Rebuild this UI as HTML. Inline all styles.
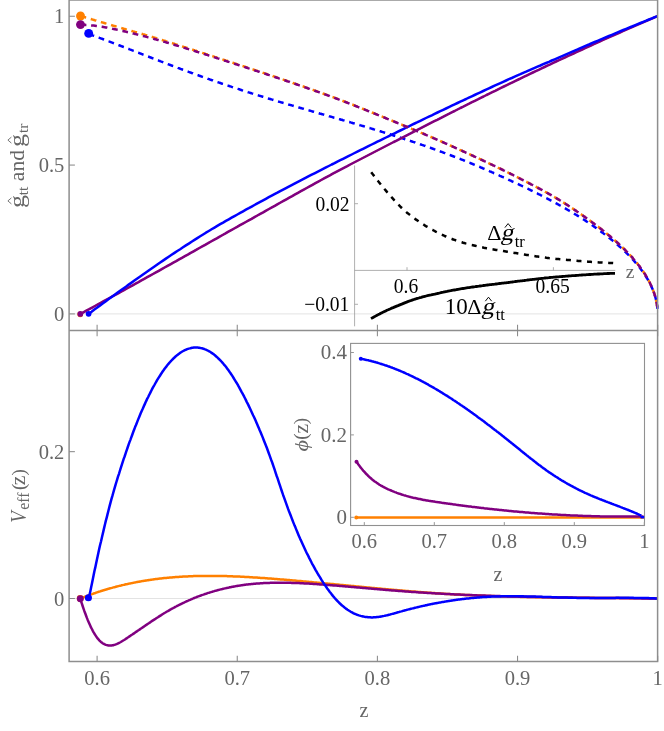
<!DOCTYPE html>
<html><head><meta charset="utf-8"><title>plot</title>
<style>
html,body{margin:0;padding:0;background:#fff;}
body{width:664px;height:731px;overflow:hidden;}
svg{display:block;font-family:"Liberation Serif",serif;will-change:transform;}
</style></head><body>
<svg width="664" height="731" viewBox="0 0 664 731">
<rect width="664" height="731" fill="#fff"/>
<line x1="69.1" x2="657.6" y1="313.9" y2="313.9" stroke="#e3e3e3" stroke-width="1"/>
<line x1="69.1" x2="657.6" y1="598.5" y2="598.5" stroke="#e3e3e3" stroke-width="1"/>
<path d="M88.7 34.0 L89.3 34.2 L90.0 34.5 L90.6 34.7 L91.2 34.9 L91.9 35.1 L92.5 35.4 L93.1 35.6 L93.8 35.8 L94.4 36.0 L95.0 36.3 L95.7 36.5 L96.3 36.7 L96.9 37.0 L97.6 37.2 L98.2 37.4 L98.8 37.6 L99.5 37.9 L100.1 38.1 L100.7 38.3 L101.4 38.6 L102.0 38.8 L102.6 39.0 L103.3 39.3 L103.9 39.5 L104.5 39.7 L105.1 40.0 L105.8 40.2 L106.4 40.5 L107.0 40.7 L107.7 40.9 L108.3 41.2 L108.9 41.4 L109.6 41.6 L110.2 41.9 L110.8 42.1 L111.5 42.4 L112.1 42.6 L112.7 42.8 L113.4 43.1 L114.0 43.3 L114.6 43.6 L115.3 43.8 L115.9 44.0 L116.5 44.3 L117.2 44.5 L117.8 44.8 L118.4 45.0 L119.1 45.3 L119.7 45.5 L120.3 45.7 L121.0 46.0 L121.6 46.2 L122.2 46.5 L122.9 46.7 L123.5 47.0 L124.1 47.2 L124.8 47.4 L125.4 47.7 L126.0 47.9 L126.7 48.2 L127.3 48.4 L127.9 48.7 L128.6 48.9 L129.2 49.2 L129.8 49.4 L130.5 49.6 L131.1 49.9 L131.7 50.1 L132.4 50.4 L133.0 50.6 L133.6 50.9 L134.3 51.1 L134.9 51.4 L135.5 51.6 L136.2 51.9 L136.8 52.1 L137.4 52.3 L138.0 52.6 L138.7 52.8 L139.3 53.1 L139.9 53.3 L140.6 53.6 L141.2 53.8 L141.8 54.1 L142.5 54.3 L143.1 54.6 L143.7 54.8 L144.4 55.1 L145.0 55.3 L145.6 55.5 L146.3 55.8 L146.9 56.0 L147.5 56.3 L148.2 56.5 L148.8 56.8 L149.4 57.0 L150.1 57.3 L150.7 57.5 L151.3 57.7 L152.0 58.0 L152.6 58.2 L153.2 58.5 L153.9 58.7 L154.5 59.0 L155.1 59.2 L155.8 59.5 L156.4 59.7 L157.0 59.9 L157.7 60.2 L158.3 60.4 L158.9 60.7 L159.6 60.9 L160.2 61.2 L160.8 61.4 L161.5 61.6 L162.1 61.9 L162.7 62.1 L163.4 62.4 L164.0 62.6 L164.6 62.9 L165.3 63.1 L165.9 63.3 L166.5 63.6 L167.2 63.8 L167.8 64.1 L168.4 64.3 L169.1 64.5 L169.7 64.8 L170.3 65.0 L170.9 65.3 L171.6 65.5 L172.2 65.7 L172.8 66.0 L173.5 66.2 L174.1 66.5 L174.7 66.7 L175.4 66.9 L176.0 67.2 L176.6 67.4 L177.3 67.6 L177.9 67.9 L178.5 68.1 L179.2 68.3 L179.8 68.6 L180.4 68.8 L181.1 69.1 L181.7 69.3 L182.3 69.5 L183.0 69.8 L183.6 70.0 L184.2 70.2 L184.9 70.5 L185.5 70.7 L186.1 70.9 L186.8 71.2 L187.4 71.4 L188.0 71.6 L188.7 71.9 L189.3 72.1 L189.9 72.3 L190.6 72.6 L191.2 72.8 L191.8 73.0 L192.5 73.2 L193.1 73.5 L193.7 73.7 L194.4 73.9 L195.0 74.2 L195.6 74.4 L196.3 74.6 L196.9 74.8 L197.5 75.1 L198.2 75.3 L198.8 75.5 L199.4 75.8 L200.1 76.0 L200.7 76.2 L201.3 76.4 L202.0 76.7 L202.6 76.9 L203.2 77.1 L203.8 77.3 L204.5 77.6 L205.1 77.8 L205.7 78.0 L206.4 78.2 L207.0 78.4 L207.6 78.7 L208.3 78.9 L208.9 79.1 L209.5 79.3 L210.2 79.6 L210.8 79.8 L211.4 80.0 L212.1 80.2 L212.7 80.4 L213.3 80.7 L214.0 80.9 L214.6 81.1 L215.2 81.3 L215.9 81.5 L216.5 81.7 L217.1 82.0 L217.8 82.2 L218.4 82.4 L219.0 82.6 L219.7 82.8 L220.3 83.0 L220.9 83.3 L221.6 83.5 L222.2 83.7 L222.8 83.9 L223.5 84.1 L224.1 84.3 L224.7 84.5 L225.4 84.7 L226.0 85.0 L226.6 85.2 L227.3 85.4 L227.9 85.6 L228.5 85.8 L229.2 86.0 L229.8 86.2 L230.4 86.4 L231.1 86.6 L231.7 86.9 L232.3 87.1 L233.0 87.3 L233.6 87.5 L234.2 87.7 L234.9 87.9 L235.5 88.1 L236.1 88.3 L236.7 88.5 L237.4 88.7 L238.0 88.9 L238.6 89.1 L239.3 89.3 L239.9 89.5 L240.5 89.8 L241.2 90.0 L241.8 90.2 L242.4 90.4 L243.1 90.6 L243.7 90.8 L244.3 91.0 L245.0 91.2 L245.6 91.4 L246.2 91.6 L246.9 91.8 L247.5 92.0 L248.1 92.2 L248.8 92.4 L249.4 92.6 L250.0 92.8 L250.7 93.0 L251.3 93.2 L251.9 93.4 L252.6 93.6 L253.2 93.8 L253.8 94.0 L254.5 94.2 L255.1 94.4 L255.7 94.6 L256.4 94.8 L257.0 95.0 L257.6 95.2 L258.3 95.4 L258.9 95.6 L259.5 95.8 L260.2 95.9 L260.8 96.1 L261.4 96.3 L262.1 96.5 L262.7 96.7 L263.3 96.9 L264.0 97.1 L264.6 97.3 L265.2 97.5 L265.9 97.7 L266.5 97.9 L267.1 98.1 L267.8 98.3 L268.4 98.5 L269.0 98.7 L269.6 98.9 L270.3 99.0 L270.9 99.2 L271.5 99.4 L272.2 99.6 L272.8 99.8 L273.4 100.0 L274.1 100.2 L274.7 100.4 L275.3 100.6 L276.0 100.8 L276.6 100.9 L277.2 101.1 L277.9 101.3 L278.5 101.5 L279.1 101.7 L279.8 101.9 L280.4 102.1 L281.0 102.3 L281.7 102.5 L282.3 102.6 L282.9 102.8 L283.6 103.0 L284.2 103.2 L284.8 103.4 L285.5 103.6 L286.1 103.8 L286.7 103.9 L287.4 104.1 L288.0 104.3 L288.6 104.5 L289.3 104.7 L289.9 104.9 L290.5 105.1 L291.2 105.2 L291.8 105.4 L292.4 105.6 L293.1 105.8 L293.7 106.0 L294.3 106.2 L295.0 106.4 L295.6 106.5 L296.2 106.7 L296.9 106.9 L297.5 107.1 L298.1 107.3 L298.8 107.5 L299.4 107.6 L300.0 107.8 L300.7 108.0 L301.3 108.2 L301.9 108.4 L302.5 108.6 L303.2 108.7 L303.8 108.9 L304.4 109.1 L305.1 109.3 L305.7 109.5 L306.3 109.7 L307.0 109.8 L307.6 110.0 L308.2 110.2 L308.9 110.4 L309.5 110.6 L310.1 110.7 L310.8 110.9 L311.4 111.1 L312.0 111.3 L312.7 111.5 L313.3 111.7 L313.9 111.8 L314.6 112.0 L315.2 112.2 L315.8 112.4 L316.5 112.6 L317.1 112.7 L317.7 112.9 L318.4 113.1 L319.0 113.3 L319.6 113.5 L320.3 113.7 L320.9 113.8 L321.5 114.0 L322.2 114.2 L322.8 114.4 L323.4 114.6 L324.1 114.7 L324.7 114.9 L325.3 115.1 L326.0 115.3 L326.6 115.5 L327.2 115.7 L327.9 115.8 L328.5 116.0 L329.1 116.2 L329.8 116.4 L330.4 116.6 L331.0 116.7 L331.7 116.9 L332.3 117.1 L332.9 117.3 L333.6 117.5 L334.2 117.7 L334.8 117.8 L335.4 118.0 L336.1 118.2 L336.7 118.4 L337.3 118.6 L338.0 118.7 L338.6 118.9 L339.2 119.1 L339.9 119.3 L340.5 119.5 L341.1 119.7 L341.8 119.8 L342.4 120.0 L343.0 120.2 L343.7 120.4 L344.3 120.6 L344.9 120.8 L345.6 120.9 L346.2 121.1 L346.8 121.3 L347.5 121.5 L348.1 121.7 L348.7 121.9 L349.4 122.0 L350.0 122.2 L350.6 122.4 L351.3 122.6 L351.9 122.8 L352.5 123.0 L353.2 123.2 L353.8 123.3 L354.4 123.5 L355.1 123.7 L355.7 123.9 L356.3 124.1 L357.0 124.3 L357.6 124.5 L358.2 124.6 L358.9 124.8 L359.5 125.0 L360.1 125.2 L360.8 125.4 L361.4 125.6 L362.0 125.8 L362.7 126.0 L363.3 126.1 L363.9 126.3 L364.6 126.5 L365.2 126.7 L365.8 126.9 L366.5 127.1 L367.1 127.3 L367.7 127.5 L368.3 127.7 L369.0 127.9 L369.6 128.0 L370.2 128.2 L370.9 128.4 L371.5 128.6 L372.1 128.8 L372.8 129.0 L373.4 129.2 L374.0 129.4 L374.7 129.6 L375.3 129.8 L375.9 130.0 L376.6 130.2 L377.2 130.3 L377.8 130.5 L378.5 130.7 L379.1 130.9 L379.7 131.1 L380.4 131.3 L381.0 131.5 L381.6 131.7 L382.3 131.9 L382.9 132.1 L383.5 132.3 L384.2 132.5 L384.8 132.7 L385.4 132.9 L386.1 133.1 L386.7 133.3 L387.3 133.5 L388.0 133.7 L388.6 133.9 L389.2 134.1 L389.9 134.3 L390.5 134.5 L391.1 134.7 L391.8 134.9 L392.4 135.1 L393.0 135.3 L393.7 135.5 L394.3 135.7 L394.9 135.9 L395.6 136.1 L396.2 136.3 L396.8 136.5 L397.5 136.7 L398.1 136.9 L398.7 137.1 L399.4 137.3 L400.0 137.5 L400.6 137.7 L401.2 137.9 L401.9 138.1 L402.5 138.3 L403.1 138.5 L403.8 138.7 L404.4 139.0 L405.0 139.2 L405.7 139.4 L406.3 139.6 L406.9 139.8 L407.6 140.0 L408.2 140.2 L408.8 140.4 L409.5 140.6 L410.1 140.8 L410.7 141.1 L411.4 141.3 L412.0 141.5 L412.6 141.7 L413.3 141.9 L413.9 142.1 L414.5 142.3 L415.2 142.5 L415.8 142.8 L416.4 143.0 L417.1 143.2 L417.7 143.4 L418.3 143.6 L419.0 143.8 L419.6 144.1 L420.2 144.3 L420.9 144.5 L421.5 144.7 L422.1 144.9 L422.8 145.1 L423.4 145.4 L424.0 145.6 L424.7 145.8 L425.3 146.0 L425.9 146.3 L426.6 146.5 L427.2 146.7 L427.8 146.9 L428.5 147.1 L429.1 147.4 L429.7 147.6 L430.4 147.8 L431.0 148.0 L431.6 148.3 L432.3 148.5 L432.9 148.7 L433.5 148.9 L434.1 149.2 L434.8 149.4 L435.4 149.6 L436.0 149.9 L436.7 150.1 L437.3 150.3 L437.9 150.6 L438.6 150.8 L439.2 151.0 L439.8 151.2 L440.5 151.5 L441.1 151.7 L441.7 151.9 L442.4 152.2 L443.0 152.4 L443.6 152.7 L444.3 152.9 L444.9 153.1 L445.5 153.4 L446.2 153.6 L446.8 153.8 L447.4 154.1 L448.1 154.3 L448.7 154.6 L449.3 154.8 L450.0 155.0 L450.6 155.3 L451.2 155.5 L451.9 155.8 L452.5 156.0 L453.1 156.2 L453.8 156.5 L454.4 156.7 L455.0 157.0 L455.7 157.2 L456.3 157.5 L456.9 157.7 L457.6 158.0 L458.2 158.2 L458.8 158.4 L459.5 158.7 L460.1 158.9 L460.7 159.2 L461.4 159.4 L462.0 159.7 L462.6 159.9 L463.3 160.2 L463.9 160.5 L464.5 160.7 L465.2 161.0 L465.8 161.2 L466.4 161.5 L467.0 161.7 L467.7 162.0 L468.3 162.2 L468.9 162.5 L469.6 162.7 L470.2 163.0 L470.8 163.3 L471.5 163.5 L472.1 163.8 L472.7 164.0 L473.4 164.3 L474.0 164.6 L474.6 164.8 L475.3 165.1 L475.9 165.4 L476.5 165.6 L477.2 165.9 L477.8 166.1 L478.4 166.4 L479.1 166.7 L479.7 166.9 L480.3 167.2 L481.0 167.5 L481.6 167.7 L482.2 168.0 L482.9 168.3 L483.5 168.6 L484.1 168.8 L484.8 169.1 L485.4 169.4 L486.0 169.6 L486.7 169.9 L487.3 170.2 L487.9 170.5 L488.6 170.7 L489.2 171.0 L489.8 171.3 L490.5 171.6 L491.1 171.8 L491.7 172.1 L492.4 172.4 L493.0 172.7 L493.6 173.0 L494.3 173.2 L494.9 173.5 L495.5 173.8 L496.2 174.1 L496.8 174.4 L497.4 174.7 L498.1 174.9 L498.7 175.2 L499.3 175.5 L499.9 175.8 L500.6 176.1 L501.2 176.4 L501.8 176.7 L502.5 176.9 L503.1 177.2 L503.7 177.5 L504.4 177.8 L505.0 178.1 L505.6 178.4 L506.3 178.7 L506.9 179.0 L507.5 179.2 L508.2 179.5 L508.8 179.8 L509.4 180.1 L510.1 180.4 L510.7 180.7 L511.3 181.0 L512.0 181.3 L512.6 181.6 L513.2 181.9 L513.9 182.2 L514.5 182.4 L515.1 182.7 L515.8 183.0 L516.4 183.3 L517.0 183.6 L517.7 183.9 L518.3 184.2 L518.9 184.5 L519.6 184.8 L520.2 185.1 L520.8 185.4 L521.5 185.7 L522.1 186.0 L522.7 186.3 L523.4 186.6 L524.0 186.9 L524.6 187.2 L525.3 187.5 L525.9 187.8 L526.5 188.1 L527.2 188.4 L527.8 188.7 L528.4 189.0 L529.1 189.4 L529.7 189.7 L530.3 190.0 L531.0 190.3 L531.6 190.6 L532.2 190.9 L532.8 191.2 L533.5 191.5 L534.1 191.8 L534.7 192.2 L535.4 192.5 L536.0 192.8 L536.6 193.1 L537.3 193.4 L537.9 193.8 L538.5 194.1 L539.2 194.4 L539.8 194.7 L540.4 195.0 L541.1 195.4 L541.7 195.7 L542.3 196.0 L543.0 196.3 L543.6 196.7 L544.2 197.0 L544.9 197.3 L545.5 197.7 L546.1 198.0 L546.8 198.3 L547.4 198.7 L548.0 199.0 L548.7 199.3 L549.3 199.7 L549.9 200.0 L550.6 200.3 L551.2 200.7 L551.8 201.0 L552.5 201.3 L553.1 201.7 L553.7 202.0 L554.4 202.4 L555.0 202.7 L555.6 203.1 L556.3 203.4 L556.9 203.7 L557.5 204.1 L558.2 204.4 L558.8 204.8 L559.4 205.1 L560.1 205.5 L560.7 205.8 L561.3 206.2 L562.0 206.5 L562.6 206.9 L563.2 207.3 L563.9 207.6 L564.5 208.0 L565.1 208.3 L565.7 208.7 L566.4 209.1 L567.0 209.4 L567.6 209.8 L568.3 210.2 L568.9 210.5 L569.5 210.9 L570.2 211.3 L570.8 211.6 L571.4 212.0 L572.1 212.4 L572.7 212.8 L573.3 213.1 L574.0 213.5 L574.6 213.9 L575.2 214.3 L575.9 214.7 L576.5 215.0 L577.1 215.4 L577.8 215.8 L578.4 216.2 L579.0 216.6 L579.7 217.0 L580.3 217.4 L580.9 217.8 L581.6 218.2 L582.2 218.6 L582.8 219.0 L583.5 219.4 L584.1 219.8 L584.7 220.2 L585.4 220.6 L586.0 221.1 L586.6 221.5 L587.3 221.9 L587.9 222.3 L588.5 222.7 L589.2 223.2 L589.8 223.6 L590.4 224.0 L591.1 224.5 L591.7 224.9 L592.3 225.3 L593.0 225.8 L593.6 226.2 L594.2 226.7 L594.9 227.1 L595.5 227.6 L596.1 228.0 L596.8 228.5 L597.4 228.9 L598.0 229.4 L598.6 229.8 L599.3 230.3 L599.9 230.8 L600.5 231.2 L601.2 231.7 L601.8 232.2 L602.4 232.6 L603.1 233.1 L603.7 233.6 L604.3 234.1 L605.0 234.6 L605.6 235.1 L606.2 235.5 L606.9 236.0 L607.5 236.5 L608.1 237.0 L608.8 237.5 L609.4 238.0 L610.0 238.5 L610.7 239.0 L611.3 239.5 L611.9 240.1 L612.6 240.6 L613.2 241.1 L613.8 241.6 L614.5 242.2 L615.1 242.7 L615.7 243.2 L616.4 243.8 L617.0 244.3 L617.6 244.8 L618.3 245.4 L618.9 246.0 L619.5 246.5 L620.2 247.1 L620.8 247.6 L621.4 248.2 L622.1 248.8 L622.7 249.4 L623.3 250.0 L624.0 250.6 L624.6 251.2 L625.2 251.8 L625.9 252.4 L626.5 253.0 L627.1 253.6 L627.8 254.2 L628.4 254.9 L629.0 255.5 L629.7 256.2 L630.3 256.8 L630.9 257.5 L631.5 258.2 L632.2 258.8 L632.8 259.5 L633.4 260.2 L634.1 260.9 L634.7 261.6 L635.3 262.4 L636.0 263.1 L636.6 263.8 L637.2 264.6 L637.9 265.4 L638.5 266.1 L639.1 266.9 L639.8 267.7 L640.4 268.6 L641.0 269.4 L641.7 270.3 L642.3 271.1 L642.9 272.0 L643.6 272.9 L644.2 273.8 L644.8 274.8 L645.5 275.8 L646.1 276.8 L646.7 277.8 L647.4 278.8 L648.0 279.9 L648.6 281.0 L649.3 282.2 L649.9 283.4 L650.5 284.7 L651.2 286.0 L651.8 287.4 L652.4 288.8 L653.1 290.4 L653.7 292.0 L654.3 293.8 L655.0 295.8 L655.6 298.0 L656.2 300.6 L656.9 303.8 L657.5 308.9" fill="none" stroke="#0000ff" stroke-width="2.50" stroke-dasharray="5.8 4.8" stroke-linejoin="round"/>
<path d="M80.5 313.9 L83.4 312.3 L86.3 310.7 L89.2 309.2 L92.1 307.6 L95.0 306.0 L97.9 304.4 L100.8 302.8 L103.7 301.2 L106.6 299.6 L109.5 298.0 L112.4 296.4 L115.3 294.9 L118.2 293.3 L121.1 291.7 L124.0 290.1 L126.9 288.5 L129.8 286.9 L132.7 285.3 L135.6 283.7 L138.5 282.1 L141.4 280.4 L144.3 278.8 L147.2 277.2 L150.1 275.6 L153.0 274.0 L155.9 272.4 L158.8 270.8 L161.7 269.2 L164.6 267.5 L167.5 265.9 L170.4 264.3 L173.3 262.7 L176.2 261.1 L179.1 259.4 L182.0 257.8 L184.9 256.2 L187.8 254.6 L190.7 252.9 L193.6 251.3 L196.5 249.7 L199.4 248.0 L202.3 246.4 L205.2 244.8 L208.1 243.2 L211.0 241.5 L213.9 239.9 L216.8 238.3 L219.7 236.6 L222.6 235.0 L225.5 233.4 L228.4 231.7 L231.3 230.1 L234.2 228.5 L237.1 226.9 L240.0 225.2 L242.9 223.6 L245.8 222.0 L248.7 220.4 L251.6 218.8 L254.5 217.1 L257.4 215.5 L260.3 213.9 L263.2 212.3 L266.1 210.6 L269.0 209.0 L271.9 207.4 L274.8 205.8 L277.7 204.1 L280.6 202.5 L283.5 200.9 L286.4 199.3 L289.3 197.7 L292.2 196.1 L295.1 194.4 L298.0 192.8 L300.9 191.2 L303.8 189.6 L306.7 188.0 L309.6 186.4 L312.5 184.8 L315.4 183.2 L318.3 181.6 L321.2 180.0 L324.1 178.4 L327.0 176.8 L329.9 175.3 L332.8 173.7 L335.7 172.2 L338.6 170.6 L341.5 169.1 L344.4 167.6 L347.3 166.1 L350.2 164.5 L353.1 163.0 L356.0 161.5 L358.9 160.0 L361.8 158.5 L364.7 157.0 L367.6 155.5 L370.5 154.0 L373.4 152.5 L376.3 151.0 L379.2 149.5 L382.1 148.0 L385.0 146.5 L387.9 145.0 L390.8 143.5 L393.7 142.0 L396.6 140.6 L399.5 139.1 L402.4 137.6 L405.3 136.1 L408.2 134.6 L411.1 133.1 L414.0 131.6 L416.9 130.1 L419.8 128.7 L422.7 127.2 L425.6 125.7 L428.5 124.2 L431.4 122.7 L434.3 121.2 L437.2 119.8 L440.1 118.3 L443.0 116.8 L445.9 115.3 L448.8 113.9 L451.7 112.4 L454.6 111.0 L457.5 109.5 L460.4 108.0 L463.3 106.6 L466.2 105.1 L469.1 103.7 L472.0 102.2 L474.9 100.8 L477.8 99.4 L480.7 97.9 L483.6 96.5 L486.5 95.0 L489.4 93.6 L492.3 92.2 L495.2 90.8 L498.1 89.3 L501.0 87.9 L503.9 86.5 L506.8 85.1 L509.7 83.7 L512.6 82.3 L515.5 80.9 L518.4 79.5 L521.3 78.1 L524.2 76.7 L527.1 75.3 L530.0 73.9 L532.9 72.5 L535.8 71.1 L538.7 69.8 L541.6 68.4 L544.5 67.0 L547.4 65.6 L550.3 64.3 L553.2 62.9 L556.1 61.5 L559.0 60.2 L561.9 58.8 L564.8 57.5 L567.7 56.1 L570.6 54.8 L573.5 53.5 L576.4 52.1 L579.3 50.8 L582.2 49.5 L585.1 48.1 L588.0 46.8 L590.9 45.5 L593.8 44.2 L596.7 42.8 L599.6 41.5 L602.5 40.2 L605.4 38.9 L608.3 37.6 L611.2 36.3 L614.1 35.0 L617.0 33.8 L619.9 32.5 L622.8 31.2 L625.7 29.9 L628.6 28.6 L631.5 27.4 L634.4 26.1 L637.3 24.8 L640.2 23.6 L643.1 22.3 L646.0 21.1 L648.9 19.8 L651.8 18.6 L654.7 17.3 L657.6 16.1" fill="none" stroke="#ff8000" stroke-width="1.60" stroke-linejoin="round"/>
<path d="M80.5 313.9 L83.4 312.3 L86.3 310.7 L89.2 309.2 L92.1 307.6 L95.0 306.0 L97.9 304.4 L100.8 302.8 L103.7 301.2 L106.6 299.6 L109.5 298.0 L112.4 296.4 L115.3 294.9 L118.2 293.3 L121.1 291.7 L124.0 290.1 L126.9 288.5 L129.8 286.9 L132.7 285.3 L135.6 283.7 L138.5 282.1 L141.4 280.4 L144.3 278.8 L147.2 277.2 L150.1 275.6 L153.0 274.0 L155.9 272.4 L158.8 270.8 L161.7 269.2 L164.6 267.5 L167.5 265.9 L170.4 264.3 L173.3 262.7 L176.2 261.1 L179.1 259.4 L182.0 257.8 L184.9 256.2 L187.8 254.6 L190.7 252.9 L193.6 251.3 L196.5 249.7 L199.4 248.0 L202.3 246.4 L205.2 244.8 L208.1 243.2 L211.0 241.5 L213.9 239.9 L216.8 238.3 L219.7 236.6 L222.6 235.0 L225.5 233.4 L228.4 231.7 L231.3 230.1 L234.2 228.5 L237.1 226.9 L240.0 225.2 L242.9 223.6 L245.8 222.0 L248.7 220.4 L251.6 218.8 L254.5 217.1 L257.4 215.5 L260.3 213.9 L263.2 212.3 L266.1 210.6 L269.0 209.0 L271.9 207.4 L274.8 205.8 L277.7 204.1 L280.6 202.5 L283.5 200.9 L286.4 199.3 L289.3 197.7 L292.2 196.1 L295.1 194.4 L298.0 192.8 L300.9 191.2 L303.8 189.6 L306.7 188.0 L309.6 186.4 L312.5 184.8 L315.4 183.2 L318.3 181.6 L321.2 180.0 L324.1 178.4 L327.0 176.8 L329.9 175.3 L332.8 173.7 L335.7 172.2 L338.6 170.6 L341.5 169.1 L344.4 167.6 L347.3 166.1 L350.2 164.5 L353.1 163.0 L356.0 161.5 L358.9 160.0 L361.8 158.5 L364.7 157.0 L367.6 155.5 L370.5 154.0 L373.4 152.5 L376.3 151.0 L379.2 149.5 L382.1 148.0 L385.0 146.5 L387.9 145.0 L390.8 143.5 L393.7 142.0 L396.6 140.6 L399.5 139.1 L402.4 137.6 L405.3 136.1 L408.2 134.6 L411.1 133.1 L414.0 131.6 L416.9 130.1 L419.8 128.7 L422.7 127.2 L425.6 125.7 L428.5 124.2 L431.4 122.7 L434.3 121.2 L437.2 119.8 L440.1 118.3 L443.0 116.8 L445.9 115.3 L448.8 113.9 L451.7 112.4 L454.6 111.0 L457.5 109.5 L460.4 108.0 L463.3 106.6 L466.2 105.1 L469.1 103.7 L472.0 102.2 L474.9 100.8 L477.8 99.4 L480.7 97.9 L483.6 96.5 L486.5 95.0 L489.4 93.6 L492.3 92.2 L495.2 90.8 L498.1 89.3 L501.0 87.9 L503.9 86.5 L506.8 85.1 L509.7 83.7 L512.6 82.3 L515.5 80.9 L518.4 79.5 L521.3 78.1 L524.2 76.7 L527.1 75.3 L530.0 73.9 L532.9 72.5 L535.8 71.1 L538.7 69.8 L541.6 68.4 L544.5 67.0 L547.4 65.6 L550.3 64.3 L553.2 62.9 L556.1 61.5 L559.0 60.2 L561.9 58.8 L564.8 57.5 L567.7 56.1 L570.6 54.8 L573.5 53.5 L576.4 52.1 L579.3 50.8 L582.2 49.5 L585.1 48.1 L588.0 46.8 L590.9 45.5 L593.8 44.2 L596.7 42.8 L599.6 41.5 L602.5 40.2 L605.4 38.9 L608.3 37.6 L611.2 36.3 L614.1 35.0 L617.0 33.8 L619.9 32.5 L622.8 31.2 L625.7 29.9 L628.6 28.6 L631.5 27.4 L634.4 26.1 L637.3 24.8 L640.2 23.6 L643.1 22.3 L646.0 21.1 L648.9 19.8 L651.8 18.6 L654.7 17.3 L657.6 16.1" fill="none" stroke="#800080" stroke-width="2.50" stroke-linejoin="round"/>
<path d="M88.7 313.9 L91.6 311.8 L94.4 309.6 L97.3 307.5 L100.1 305.4 L103.0 303.3 L105.9 301.2 L108.7 299.1 L111.6 297.0 L114.4 294.9 L117.3 292.8 L120.1 290.8 L123.0 288.7 L125.9 286.7 L128.7 284.6 L131.6 282.6 L134.4 280.6 L137.3 278.5 L140.2 276.5 L143.0 274.5 L145.9 272.5 L148.7 270.5 L151.6 268.5 L154.5 266.5 L157.3 264.5 L160.2 262.5 L163.0 260.6 L165.9 258.6 L168.7 256.7 L171.6 254.8 L174.5 252.9 L177.3 251.0 L180.2 249.2 L183.0 247.3 L185.9 245.4 L188.8 243.6 L191.6 241.7 L194.5 239.9 L197.3 238.1 L200.2 236.3 L203.1 234.5 L205.9 232.7 L208.8 231.0 L211.6 229.3 L214.5 227.6 L217.3 225.9 L220.2 224.2 L223.1 222.6 L225.9 220.9 L228.8 219.3 L231.6 217.7 L234.5 216.1 L237.4 214.5 L240.2 212.9 L243.1 211.3 L245.9 209.7 L248.8 208.2 L251.7 206.6 L254.5 205.0 L257.4 203.4 L260.2 201.9 L263.1 200.3 L265.9 198.8 L268.8 197.2 L271.7 195.7 L274.5 194.2 L277.4 192.7 L280.2 191.1 L283.1 189.6 L286.0 188.1 L288.8 186.6 L291.7 185.1 L294.5 183.6 L297.4 182.1 L300.3 180.6 L303.1 179.2 L306.0 177.7 L308.8 176.2 L311.7 174.7 L314.5 173.3 L317.4 171.8 L320.3 170.3 L323.1 168.9 L326.0 167.4 L328.8 166.0 L331.7 164.5 L334.6 163.1 L337.4 161.6 L340.3 160.2 L343.1 158.8 L346.0 157.3 L348.9 155.9 L351.7 154.5 L354.6 153.0 L357.4 151.6 L360.3 150.2 L363.1 148.8 L366.0 147.3 L368.9 145.9 L371.7 144.5 L374.6 143.1 L377.4 141.7 L380.3 140.3 L383.2 138.9 L386.0 137.5 L388.9 136.1 L391.7 134.7 L394.6 133.3 L397.4 131.9 L400.3 130.5 L403.2 129.1 L406.0 127.7 L408.9 126.3 L411.7 124.9 L414.6 123.5 L417.5 122.2 L420.3 120.8 L423.2 119.4 L426.0 118.0 L428.9 116.6 L431.8 115.3 L434.6 113.9 L437.5 112.5 L440.3 111.2 L443.2 109.8 L446.0 108.5 L448.9 107.1 L451.8 105.7 L454.6 104.4 L457.5 103.0 L460.3 101.7 L463.2 100.3 L466.1 99.0 L468.9 97.6 L471.8 96.3 L474.6 95.0 L477.5 93.6 L480.4 92.3 L483.2 91.0 L486.1 89.6 L488.9 88.3 L491.8 87.0 L494.6 85.7 L497.5 84.4 L500.4 83.1 L503.2 81.8 L506.1 80.5 L508.9 79.2 L511.8 78.0 L514.7 76.7 L517.5 75.4 L520.4 74.2 L523.2 72.9 L526.1 71.7 L529.0 70.4 L531.8 69.2 L534.7 67.9 L537.5 66.7 L540.4 65.5 L543.2 64.2 L546.1 63.0 L549.0 61.8 L551.8 60.5 L554.7 59.3 L557.5 58.1 L560.4 56.8 L563.3 55.6 L566.1 54.4 L569.0 53.1 L571.8 51.9 L574.7 50.6 L577.6 49.4 L580.4 48.1 L583.3 46.9 L586.1 45.7 L589.0 44.5 L591.8 43.2 L594.7 42.0 L597.6 40.8 L600.4 39.6 L603.3 38.4 L606.1 37.2 L609.0 36.0 L611.9 34.8 L614.7 33.6 L617.6 32.4 L620.4 31.2 L623.3 30.0 L626.2 28.8 L629.0 27.6 L631.9 26.5 L634.7 25.3 L637.6 24.1 L640.4 23.0 L643.3 21.8 L646.2 20.7 L649.0 19.5 L651.9 18.4 L654.7 17.2 L657.6 16.1" fill="none" stroke="#0000ff" stroke-width="2.50" stroke-linejoin="round"/>
<path d="M80.6 16.0 L81.2 16.2 L81.9 16.3 L82.5 16.5 L83.2 16.7 L83.8 16.9 L84.5 17.1 L85.1 17.3 L85.7 17.5 L86.4 17.7 L87.0 17.9 L87.7 18.1 L88.3 18.3 L88.9 18.5 L89.6 18.6 L90.2 18.8 L90.9 19.0 L91.5 19.2 L92.2 19.4 L92.8 19.6 L93.4 19.8 L94.1 20.0 L94.7 20.2 L95.4 20.4 L96.0 20.5 L96.6 20.7 L97.3 20.9 L97.9 21.1 L98.6 21.3 L99.2 21.5 L99.9 21.7 L100.5 21.9 L101.1 22.1 L101.8 22.3 L102.4 22.4 L103.1 22.6 L103.7 22.8 L104.3 23.0 L105.0 23.2 L105.6 23.4 L106.3 23.6 L106.9 23.8 L107.6 24.0 L108.2 24.2 L108.8 24.3 L109.5 24.5 L110.1 24.7 L110.8 24.9 L111.4 25.1 L112.0 25.3 L112.7 25.5 L113.3 25.7 L114.0 25.9 L114.6 26.0 L115.3 26.2 L115.9 26.4 L116.5 26.6 L117.2 26.8 L117.8 27.0 L118.5 27.2 L119.1 27.4 L119.7 27.5 L120.4 27.7 L121.0 27.9 L121.7 28.1 L122.3 28.3 L123.0 28.5 L123.6 28.7 L124.2 28.9 L124.9 29.0 L125.5 29.2 L126.2 29.4 L126.8 29.6 L127.4 29.8 L128.1 30.0 L128.7 30.1 L129.4 30.3 L130.0 30.5 L130.7 30.7 L131.3 30.9 L131.9 31.1 L132.6 31.2 L133.2 31.4 L133.9 31.6 L134.5 31.8 L135.1 32.0 L135.8 32.2 L136.4 32.3 L137.1 32.5 L137.7 32.7 L138.4 32.9 L139.0 33.1 L139.6 33.3 L140.3 33.4 L140.9 33.6 L141.6 33.8 L142.2 34.0 L142.8 34.2 L143.5 34.4 L144.1 34.5 L144.8 34.7 L145.4 34.9 L146.1 35.1 L146.7 35.3 L147.3 35.5 L148.0 35.7 L148.6 35.9 L149.3 36.0 L149.9 36.2 L150.5 36.4 L151.2 36.6 L151.8 36.8 L152.5 37.0 L153.1 37.2 L153.8 37.4 L154.4 37.6 L155.0 37.8 L155.7 38.0 L156.3 38.2 L157.0 38.4 L157.6 38.6 L158.2 38.8 L158.9 39.0 L159.5 39.2 L160.2 39.4 L160.8 39.6 L161.5 39.8 L162.1 40.0 L162.7 40.2 L163.4 40.4 L164.0 40.6 L164.7 40.8 L165.3 41.0 L165.9 41.2 L166.6 41.4 L167.2 41.6 L167.9 41.8 L168.5 42.0 L169.2 42.2 L169.8 42.4 L170.4 42.6 L171.1 42.8 L171.7 43.0 L172.4 43.2 L173.0 43.4 L173.6 43.6 L174.3 43.8 L174.9 44.0 L175.6 44.2 L176.2 44.4 L176.9 44.6 L177.5 44.8 L178.1 45.1 L178.8 45.3 L179.4 45.5 L180.1 45.7 L180.7 45.9 L181.3 46.1 L182.0 46.3 L182.6 46.5 L183.3 46.7 L183.9 46.9 L184.6 47.1 L185.2 47.3 L185.8 47.5 L186.5 47.7 L187.1 47.9 L187.8 48.1 L188.4 48.3 L189.0 48.5 L189.7 48.7 L190.3 49.0 L191.0 49.2 L191.6 49.4 L192.3 49.6 L192.9 49.8 L193.5 50.0 L194.2 50.2 L194.8 50.4 L195.5 50.6 L196.1 50.8 L196.7 51.0 L197.4 51.2 L198.0 51.4 L198.7 51.6 L199.3 51.9 L200.0 52.1 L200.6 52.3 L201.2 52.5 L201.9 52.7 L202.5 52.9 L203.2 53.1 L203.8 53.3 L204.4 53.5 L205.1 53.7 L205.7 53.9 L206.4 54.1 L207.0 54.3 L207.7 54.6 L208.3 54.8 L208.9 55.0 L209.6 55.2 L210.2 55.4 L210.9 55.6 L211.5 55.8 L212.1 56.0 L212.8 56.2 L213.4 56.4 L214.1 56.6 L214.7 56.9 L215.4 57.1 L216.0 57.3 L216.6 57.5 L217.3 57.7 L217.9 57.9 L218.6 58.1 L219.2 58.3 L219.8 58.5 L220.5 58.7 L221.1 58.9 L221.8 59.2 L222.4 59.4 L223.1 59.6 L223.7 59.8 L224.3 60.0 L225.0 60.2 L225.6 60.4 L226.3 60.6 L226.9 60.8 L227.5 61.0 L228.2 61.3 L228.8 61.5 L229.5 61.7 L230.1 61.9 L230.8 62.1 L231.4 62.3 L232.0 62.5 L232.7 62.7 L233.3 62.9 L234.0 63.2 L234.6 63.4 L235.3 63.6 L235.9 63.8 L236.5 64.0 L237.2 64.2 L237.8 64.4 L238.5 64.6 L239.1 64.8 L239.7 65.1 L240.4 65.3 L241.0 65.5 L241.7 65.7 L242.3 65.9 L243.0 66.1 L243.6 66.3 L244.2 66.5 L244.9 66.7 L245.5 67.0 L246.2 67.2 L246.8 67.4 L247.4 67.6 L248.1 67.8 L248.7 68.0 L249.4 68.2 L250.0 68.4 L250.7 68.7 L251.3 68.9 L251.9 69.1 L252.6 69.3 L253.2 69.5 L253.9 69.7 L254.5 69.9 L255.1 70.1 L255.8 70.4 L256.4 70.6 L257.1 70.8 L257.7 71.0 L258.4 71.2 L259.0 71.4 L259.6 71.6 L260.3 71.9 L260.9 72.1 L261.6 72.3 L262.2 72.5 L262.8 72.7 L263.5 72.9 L264.1 73.1 L264.8 73.4 L265.4 73.6 L266.1 73.8 L266.7 74.0 L267.3 74.2 L268.0 74.4 L268.6 74.6 L269.3 74.9 L269.9 75.1 L270.5 75.3 L271.2 75.5 L271.8 75.7 L272.5 75.9 L273.1 76.2 L273.8 76.4 L274.4 76.6 L275.0 76.8 L275.7 77.0 L276.3 77.2 L277.0 77.5 L277.6 77.7 L278.2 77.9 L278.9 78.1 L279.5 78.3 L280.2 78.6 L280.8 78.8 L281.5 79.0 L282.1 79.2 L282.7 79.4 L283.4 79.6 L284.0 79.9 L284.7 80.1 L285.3 80.3 L285.9 80.5 L286.6 80.7 L287.2 81.0 L287.9 81.2 L288.5 81.4 L289.2 81.6 L289.8 81.8 L290.4 82.1 L291.1 82.3 L291.7 82.5 L292.4 82.7 L293.0 83.0 L293.6 83.2 L294.3 83.4 L294.9 83.6 L295.6 83.8 L296.2 84.1 L296.9 84.3 L297.5 84.5 L298.1 84.7 L298.8 85.0 L299.4 85.2 L300.1 85.4 L300.7 85.6 L301.3 85.8 L302.0 86.1 L302.6 86.3 L303.3 86.5 L303.9 86.7 L304.6 87.0 L305.2 87.2 L305.8 87.4 L306.5 87.6 L307.1 87.9 L307.8 88.1 L308.4 88.3 L309.0 88.5 L309.7 88.8 L310.3 89.0 L311.0 89.2 L311.6 89.5 L312.3 89.7 L312.9 89.9 L313.5 90.1 L314.2 90.4 L314.8 90.6 L315.5 90.8 L316.1 91.0 L316.7 91.3 L317.4 91.5 L318.0 91.7 L318.7 92.0 L319.3 92.2 L320.0 92.4 L320.6 92.7 L321.2 92.9 L321.9 93.1 L322.5 93.3 L323.2 93.6 L323.8 93.8 L324.4 94.0 L325.1 94.3 L325.7 94.5 L326.4 94.7 L327.0 95.0 L327.7 95.2 L328.3 95.4 L328.9 95.7 L329.6 95.9 L330.2 96.2 L330.9 96.4 L331.5 96.6 L332.1 96.9 L332.8 97.1 L333.4 97.3 L334.1 97.6 L334.7 97.8 L335.4 98.1 L336.0 98.3 L336.6 98.5 L337.3 98.8 L337.9 99.0 L338.6 99.3 L339.2 99.5 L339.8 99.8 L340.5 100.0 L341.1 100.3 L341.8 100.5 L342.4 100.7 L343.1 101.0 L343.7 101.2 L344.3 101.5 L345.0 101.7 L345.6 102.0 L346.3 102.2 L346.9 102.5 L347.5 102.7 L348.2 103.0 L348.8 103.2 L349.5 103.5 L350.1 103.7 L350.8 104.0 L351.4 104.2 L352.0 104.5 L352.7 104.7 L353.3 105.0 L354.0 105.2 L354.6 105.5 L355.2 105.8 L355.9 106.0 L356.5 106.3 L357.2 106.5 L357.8 106.8 L358.5 107.0 L359.1 107.3 L359.7 107.5 L360.4 107.8 L361.0 108.1 L361.7 108.3 L362.3 108.6 L362.9 108.8 L363.6 109.1 L364.2 109.3 L364.9 109.6 L365.5 109.9 L366.2 110.1 L366.8 110.4 L367.4 110.6 L368.1 110.9 L368.7 111.2 L369.4 111.4 L370.0 111.7 L370.6 111.9 L371.3 112.2 L371.9 112.5 L372.6 112.7 L373.2 113.0 L373.9 113.2 L374.5 113.5 L375.1 113.8 L375.8 114.0 L376.4 114.3 L377.1 114.5 L377.7 114.8 L378.3 115.1 L379.0 115.3 L379.6 115.6 L380.3 115.8 L380.9 116.1 L381.6 116.4 L382.2 116.6 L382.8 116.9 L383.5 117.2 L384.1 117.4 L384.8 117.7 L385.4 118.0 L386.0 118.2 L386.7 118.5 L387.3 118.7 L388.0 119.0 L388.6 119.3 L389.3 119.5 L389.9 119.8 L390.5 120.1 L391.2 120.3 L391.8 120.6 L392.5 120.8 L393.1 121.1 L393.8 121.4 L394.4 121.6 L395.0 121.9 L395.7 122.2 L396.3 122.4 L397.0 122.7 L397.6 123.0 L398.2 123.2 L398.9 123.5 L399.5 123.7 L400.2 124.0 L400.8 124.3 L401.5 124.5 L402.1 124.8 L402.7 125.1 L403.4 125.3 L404.0 125.6 L404.7 125.9 L405.3 126.1 L405.9 126.4 L406.6 126.7 L407.2 126.9 L407.9 127.2 L408.5 127.5 L409.2 127.7 L409.8 128.0 L410.4 128.3 L411.1 128.5 L411.7 128.8 L412.4 129.1 L413.0 129.3 L413.6 129.6 L414.3 129.9 L414.9 130.1 L415.6 130.4 L416.2 130.7 L416.9 130.9 L417.5 131.2 L418.1 131.5 L418.8 131.8 L419.4 132.0 L420.1 132.3 L420.7 132.6 L421.3 132.9 L422.0 133.1 L422.6 133.4 L423.3 133.7 L423.9 133.9 L424.6 134.2 L425.2 134.5 L425.8 134.8 L426.5 135.0 L427.1 135.3 L427.8 135.6 L428.4 135.9 L429.0 136.1 L429.7 136.4 L430.3 136.7 L431.0 137.0 L431.6 137.3 L432.3 137.5 L432.9 137.8 L433.5 138.1 L434.2 138.4 L434.8 138.7 L435.5 138.9 L436.1 139.2 L436.7 139.5 L437.4 139.8 L438.0 140.1 L438.7 140.3 L439.3 140.6 L440.0 140.9 L440.6 141.2 L441.2 141.5 L441.9 141.7 L442.5 142.0 L443.2 142.3 L443.8 142.6 L444.4 142.9 L445.1 143.2 L445.7 143.4 L446.4 143.7 L447.0 144.0 L447.7 144.3 L448.3 144.6 L448.9 144.9 L449.6 145.2 L450.2 145.5 L450.9 145.7 L451.5 146.0 L452.1 146.3 L452.8 146.6 L453.4 146.9 L454.1 147.2 L454.7 147.5 L455.4 147.8 L456.0 148.0 L456.6 148.3 L457.3 148.6 L457.9 148.9 L458.6 149.2 L459.2 149.5 L459.8 149.8 L460.5 150.1 L461.1 150.4 L461.8 150.7 L462.4 151.0 L463.1 151.3 L463.7 151.6 L464.3 151.8 L465.0 152.1 L465.6 152.4 L466.3 152.7 L466.9 153.0 L467.5 153.3 L468.2 153.6 L468.8 153.9 L469.5 154.2 L470.1 154.5 L470.8 154.8 L471.4 155.1 L472.0 155.4 L472.7 155.7 L473.3 156.0 L474.0 156.3 L474.6 156.6 L475.2 156.9 L475.9 157.2 L476.5 157.5 L477.2 157.8 L477.8 158.1 L478.5 158.3 L479.1 158.6 L479.7 158.9 L480.4 159.2 L481.0 159.5 L481.7 159.8 L482.3 160.1 L482.9 160.4 L483.6 160.7 L484.2 161.0 L484.9 161.3 L485.5 161.6 L486.2 161.9 L486.8 162.3 L487.4 162.6 L488.1 162.9 L488.7 163.2 L489.4 163.5 L490.0 163.8 L490.6 164.1 L491.3 164.4 L491.9 164.7 L492.6 165.0 L493.2 165.3 L493.9 165.6 L494.5 165.9 L495.1 166.2 L495.8 166.5 L496.4 166.8 L497.1 167.1 L497.7 167.4 L498.3 167.8 L499.0 168.1 L499.6 168.4 L500.3 168.7 L500.9 169.0 L501.6 169.3 L502.2 169.6 L502.8 169.9 L503.5 170.3 L504.1 170.6 L504.8 170.9 L505.4 171.2 L506.0 171.5 L506.7 171.8 L507.3 172.1 L508.0 172.5 L508.6 172.8 L509.3 173.1 L509.9 173.4 L510.5 173.7 L511.2 174.1 L511.8 174.4 L512.5 174.7 L513.1 175.0 L513.7 175.4 L514.4 175.7 L515.0 176.0 L515.7 176.3 L516.3 176.7 L517.0 177.0 L517.6 177.3 L518.2 177.6 L518.9 178.0 L519.5 178.3 L520.2 178.6 L520.8 179.0 L521.4 179.3 L522.1 179.6 L522.7 179.9 L523.4 180.3 L524.0 180.6 L524.7 180.9 L525.3 181.3 L525.9 181.6 L526.6 181.9 L527.2 182.3 L527.9 182.6 L528.5 182.9 L529.1 183.3 L529.8 183.6 L530.4 183.9 L531.1 184.3 L531.7 184.6 L532.4 184.9 L533.0 185.3 L533.6 185.6 L534.3 185.9 L534.9 186.3 L535.6 186.6 L536.2 186.9 L536.8 187.3 L537.5 187.6 L538.1 188.0 L538.8 188.3 L539.4 188.6 L540.1 189.0 L540.7 189.3 L541.3 189.7 L542.0 190.0 L542.6 190.4 L543.3 190.7 L543.9 191.1 L544.6 191.4 L545.2 191.8 L545.8 192.1 L546.5 192.5 L547.1 192.9 L547.8 193.2 L548.4 193.6 L549.0 193.9 L549.7 194.3 L550.3 194.7 L551.0 195.0 L551.6 195.4 L552.3 195.8 L552.9 196.1 L553.5 196.5 L554.2 196.9 L554.8 197.3 L555.5 197.6 L556.1 198.0 L556.7 198.4 L557.4 198.8 L558.0 199.2 L558.7 199.6 L559.3 200.0 L560.0 200.4 L560.6 200.7 L561.2 201.1 L561.9 201.5 L562.5 201.9 L563.2 202.4 L563.8 202.8 L564.4 203.2 L565.1 203.6 L565.7 204.0 L566.4 204.4 L567.0 204.8 L567.7 205.2 L568.3 205.6 L568.9 206.1 L569.6 206.5 L570.2 206.9 L570.9 207.3 L571.5 207.8 L572.1 208.2 L572.8 208.6 L573.4 209.0 L574.1 209.5 L574.7 209.9 L575.4 210.3 L576.0 210.8 L576.6 211.2 L577.3 211.7 L577.9 212.1 L578.6 212.5 L579.2 213.0 L579.8 213.4 L580.5 213.9 L581.1 214.3 L581.8 214.8 L582.4 215.2 L583.1 215.7 L583.7 216.1 L584.3 216.6 L585.0 217.1 L585.6 217.5 L586.3 218.0 L586.9 218.4 L587.5 218.9 L588.2 219.4 L588.8 219.8 L589.5 220.3 L590.1 220.8 L590.8 221.3 L591.4 221.7 L592.0 222.2 L592.7 222.7 L593.3 223.2 L594.0 223.6 L594.6 224.1 L595.2 224.6 L595.9 225.1 L596.5 225.6 L597.2 226.1 L597.8 226.6 L598.5 227.0 L599.1 227.5 L599.7 228.0 L600.4 228.5 L601.0 229.0 L601.7 229.5 L602.3 230.0 L602.9 230.5 L603.6 231.0 L604.2 231.5 L604.9 232.1 L605.5 232.6 L606.2 233.1 L606.8 233.6 L607.4 234.1 L608.1 234.7 L608.7 235.2 L609.4 235.7 L610.0 236.3 L610.6 236.8 L611.3 237.4 L611.9 237.9 L612.6 238.4 L613.2 239.0 L613.9 239.6 L614.5 240.1 L615.1 240.7 L615.8 241.2 L616.4 241.8 L617.1 242.4 L617.7 243.0 L618.3 243.6 L619.0 244.1 L619.6 244.7 L620.3 245.3 L620.9 245.9 L621.6 246.5 L622.2 247.2 L622.8 247.8 L623.5 248.4 L624.1 249.0 L624.8 249.7 L625.4 250.3 L626.0 250.9 L626.7 251.6 L627.3 252.2 L628.0 252.9 L628.6 253.6 L629.3 254.2 L629.9 254.9 L630.5 255.6 L631.2 256.3 L631.8 257.0 L632.5 257.7 L633.1 258.5 L633.7 259.2 L634.4 260.0 L635.0 260.7 L635.7 261.5 L636.3 262.3 L637.0 263.0 L637.6 263.9 L638.2 264.7 L638.9 265.5 L639.5 266.3 L640.2 267.2 L640.8 268.1 L641.4 269.0 L642.1 269.9 L642.7 270.8 L643.4 271.8 L644.0 272.7 L644.7 273.7 L645.3 274.7 L645.9 275.8 L646.6 276.8 L647.2 277.9 L647.9 279.1 L648.5 280.2 L649.1 281.4 L649.8 282.7 L650.4 284.0 L651.1 285.3 L651.7 286.8 L652.4 288.3 L653.0 289.9 L653.6 291.7 L654.3 293.5 L654.9 295.6 L655.6 297.9 L656.2 300.6 L656.8 303.9 L657.5 309.0" fill="none" stroke="#ff8000" stroke-width="2.50" stroke-dasharray="5.8 4.8" stroke-linejoin="round"/>
<path d="M80.6 24.6 L81.2 24.6 L81.9 24.6 L82.5 24.7 L83.2 24.7 L83.8 24.8 L84.5 24.8 L85.1 24.8 L85.7 24.9 L86.4 24.9 L87.0 25.0 L87.7 25.0 L88.3 25.1 L88.9 25.1 L89.6 25.2 L90.2 25.2 L90.9 25.3 L91.5 25.4 L92.2 25.4 L92.8 25.5 L93.4 25.6 L94.1 25.6 L94.7 25.7 L95.4 25.8 L96.0 25.9 L96.6 26.0 L97.3 26.1 L97.9 26.1 L98.6 26.2 L99.2 26.3 L99.9 26.4 L100.5 26.5 L101.1 26.6 L101.8 26.7 L102.4 26.8 L103.1 27.0 L103.7 27.1 L104.3 27.2 L105.0 27.3 L105.6 27.4 L106.3 27.5 L106.9 27.6 L107.6 27.8 L108.2 27.9 L108.8 28.0 L109.5 28.1 L110.1 28.3 L110.8 28.4 L111.4 28.5 L112.0 28.6 L112.7 28.8 L113.3 28.9 L114.0 29.0 L114.6 29.2 L115.3 29.3 L115.9 29.4 L116.5 29.6 L117.2 29.7 L117.8 29.8 L118.5 30.0 L119.1 30.1 L119.7 30.3 L120.4 30.4 L121.0 30.6 L121.7 30.7 L122.3 30.9 L123.0 31.0 L123.6 31.2 L124.2 31.3 L124.9 31.5 L125.5 31.6 L126.2 31.8 L126.8 31.9 L127.4 32.1 L128.1 32.2 L128.7 32.4 L129.4 32.5 L130.0 32.7 L130.7 32.9 L131.3 33.0 L131.9 33.2 L132.6 33.3 L133.2 33.5 L133.9 33.6 L134.5 33.8 L135.1 34.0 L135.8 34.1 L136.4 34.3 L137.1 34.4 L137.7 34.6 L138.4 34.8 L139.0 34.9 L139.6 35.1 L140.3 35.3 L140.9 35.4 L141.6 35.6 L142.2 35.8 L142.8 35.9 L143.5 36.1 L144.1 36.2 L144.8 36.4 L145.4 36.6 L146.1 36.7 L146.7 36.9 L147.3 37.1 L148.0 37.3 L148.6 37.4 L149.3 37.6 L149.9 37.8 L150.5 37.9 L151.2 38.1 L151.8 38.3 L152.5 38.5 L153.1 38.6 L153.8 38.8 L154.4 39.0 L155.0 39.2 L155.7 39.3 L156.3 39.5 L157.0 39.7 L157.6 39.9 L158.2 40.0 L158.9 40.2 L159.5 40.4 L160.2 40.6 L160.8 40.8 L161.5 41.0 L162.1 41.2 L162.7 41.3 L163.4 41.5 L164.0 41.7 L164.7 41.9 L165.3 42.1 L165.9 42.3 L166.6 42.5 L167.2 42.7 L167.9 42.8 L168.5 43.0 L169.2 43.2 L169.8 43.4 L170.4 43.6 L171.1 43.8 L171.7 44.0 L172.4 44.2 L173.0 44.4 L173.6 44.6 L174.3 44.8 L174.9 45.0 L175.6 45.2 L176.2 45.4 L176.9 45.5 L177.5 45.7 L178.1 45.9 L178.8 46.1 L179.4 46.3 L180.1 46.5 L180.7 46.7 L181.3 46.9 L182.0 47.1 L182.6 47.3 L183.3 47.5 L183.9 47.7 L184.6 47.9 L185.2 48.1 L185.8 48.3 L186.5 48.5 L187.1 48.7 L187.8 48.9 L188.4 49.1 L189.0 49.3 L189.7 49.5 L190.3 49.7 L191.0 49.9 L191.6 50.1 L192.3 50.3 L192.9 50.5 L193.5 50.7 L194.2 50.9 L194.8 51.1 L195.5 51.3 L196.1 51.5 L196.7 51.7 L197.4 51.9 L198.0 52.1 L198.7 52.3 L199.3 52.5 L200.0 52.7 L200.6 52.9 L201.2 53.1 L201.9 53.3 L202.5 53.5 L203.2 53.7 L203.8 53.9 L204.4 54.1 L205.1 54.3 L205.7 54.5 L206.4 54.7 L207.0 54.9 L207.7 55.1 L208.3 55.3 L208.9 55.5 L209.6 55.7 L210.2 55.9 L210.9 56.1 L211.5 56.4 L212.1 56.6 L212.8 56.8 L213.4 57.0 L214.1 57.2 L214.7 57.4 L215.4 57.6 L216.0 57.8 L216.6 58.0 L217.3 58.2 L217.9 58.4 L218.6 58.6 L219.2 58.8 L219.8 59.0 L220.5 59.2 L221.1 59.4 L221.8 59.6 L222.4 59.8 L223.1 60.0 L223.7 60.3 L224.3 60.5 L225.0 60.7 L225.6 60.9 L226.3 61.1 L226.9 61.3 L227.5 61.5 L228.2 61.7 L228.8 61.9 L229.5 62.1 L230.1 62.3 L230.8 62.5 L231.4 62.7 L232.0 62.9 L232.7 63.1 L233.3 63.4 L234.0 63.6 L234.6 63.8 L235.3 64.0 L235.9 64.2 L236.5 64.4 L237.2 64.6 L237.8 64.8 L238.5 65.0 L239.1 65.2 L239.7 65.4 L240.4 65.6 L241.0 65.9 L241.7 66.1 L242.3 66.3 L243.0 66.5 L243.6 66.7 L244.2 66.9 L244.9 67.1 L245.5 67.3 L246.2 67.5 L246.8 67.7 L247.4 67.9 L248.1 68.2 L248.7 68.4 L249.4 68.6 L250.0 68.8 L250.7 69.0 L251.3 69.2 L251.9 69.4 L252.6 69.6 L253.2 69.8 L253.9 70.0 L254.5 70.3 L255.1 70.5 L255.8 70.7 L256.4 70.9 L257.1 71.1 L257.7 71.3 L258.4 71.5 L259.0 71.7 L259.6 71.9 L260.3 72.2 L260.9 72.4 L261.6 72.6 L262.2 72.8 L262.8 73.0 L263.5 73.2 L264.1 73.4 L264.8 73.6 L265.4 73.8 L266.1 74.1 L266.7 74.3 L267.3 74.5 L268.0 74.7 L268.6 74.9 L269.3 75.1 L269.9 75.3 L270.5 75.6 L271.2 75.8 L271.8 76.0 L272.5 76.2 L273.1 76.4 L273.8 76.6 L274.4 76.8 L275.0 77.1 L275.7 77.3 L276.3 77.5 L277.0 77.7 L277.6 77.9 L278.2 78.1 L278.9 78.4 L279.5 78.6 L280.2 78.8 L280.8 79.0 L281.5 79.2 L282.1 79.4 L282.7 79.6 L283.4 79.9 L284.0 80.1 L284.7 80.3 L285.3 80.5 L285.9 80.7 L286.6 81.0 L287.2 81.2 L287.9 81.4 L288.5 81.6 L289.2 81.8 L289.8 82.0 L290.4 82.3 L291.1 82.5 L291.7 82.7 L292.4 82.9 L293.0 83.1 L293.6 83.4 L294.3 83.6 L294.9 83.8 L295.6 84.0 L296.2 84.2 L296.9 84.5 L297.5 84.7 L298.1 84.9 L298.8 85.1 L299.4 85.4 L300.1 85.6 L300.7 85.8 L301.3 86.0 L302.0 86.2 L302.6 86.5 L303.3 86.7 L303.9 86.9 L304.6 87.1 L305.2 87.4 L305.8 87.6 L306.5 87.8 L307.1 88.0 L307.8 88.3 L308.4 88.5 L309.0 88.7 L309.7 88.9 L310.3 89.2 L311.0 89.4 L311.6 89.6 L312.3 89.8 L312.9 90.1 L313.5 90.3 L314.2 90.5 L314.8 90.7 L315.5 91.0 L316.1 91.2 L316.7 91.4 L317.4 91.6 L318.0 91.9 L318.7 92.1 L319.3 92.3 L320.0 92.6 L320.6 92.8 L321.2 93.0 L321.9 93.2 L322.5 93.5 L323.2 93.7 L323.8 93.9 L324.4 94.2 L325.1 94.4 L325.7 94.6 L326.4 94.9 L327.0 95.1 L327.7 95.3 L328.3 95.6 L328.9 95.8 L329.6 96.0 L330.2 96.3 L330.9 96.5 L331.5 96.7 L332.1 97.0 L332.8 97.2 L333.4 97.5 L334.1 97.7 L334.7 97.9 L335.4 98.2 L336.0 98.4 L336.6 98.7 L337.3 98.9 L337.9 99.1 L338.6 99.4 L339.2 99.6 L339.8 99.9 L340.5 100.1 L341.1 100.4 L341.8 100.6 L342.4 100.9 L343.1 101.1 L343.7 101.3 L344.3 101.6 L345.0 101.8 L345.6 102.1 L346.3 102.3 L346.9 102.6 L347.5 102.8 L348.2 103.1 L348.8 103.3 L349.5 103.6 L350.1 103.8 L350.8 104.1 L351.4 104.3 L352.0 104.6 L352.7 104.8 L353.3 105.1 L354.0 105.3 L354.6 105.6 L355.2 105.8 L355.9 106.1 L356.5 106.3 L357.2 106.6 L357.8 106.9 L358.5 107.1 L359.1 107.4 L359.7 107.6 L360.4 107.9 L361.0 108.1 L361.7 108.4 L362.3 108.6 L362.9 108.9 L363.6 109.2 L364.2 109.4 L364.9 109.7 L365.5 109.9 L366.2 110.2 L366.8 110.4 L367.4 110.7 L368.1 111.0 L368.7 111.2 L369.4 111.5 L370.0 111.7 L370.6 112.0 L371.3 112.3 L371.9 112.5 L372.6 112.8 L373.2 113.0 L373.9 113.3 L374.5 113.6 L375.1 113.8 L375.8 114.1 L376.4 114.3 L377.1 114.6 L377.7 114.9 L378.3 115.1 L379.0 115.4 L379.6 115.7 L380.3 115.9 L380.9 116.2 L381.6 116.4 L382.2 116.7 L382.8 117.0 L383.5 117.2 L384.1 117.5 L384.8 117.7 L385.4 118.0 L386.0 118.3 L386.7 118.5 L387.3 118.8 L388.0 119.1 L388.6 119.3 L389.3 119.6 L389.9 119.9 L390.5 120.1 L391.2 120.4 L391.8 120.6 L392.5 120.9 L393.1 121.2 L393.8 121.4 L394.4 121.7 L395.0 122.0 L395.7 122.2 L396.3 122.5 L397.0 122.7 L397.6 123.0 L398.2 123.3 L398.9 123.5 L399.5 123.8 L400.2 124.1 L400.8 124.3 L401.5 124.6 L402.1 124.8 L402.7 125.1 L403.4 125.4 L404.0 125.6 L404.7 125.9 L405.3 126.2 L405.9 126.4 L406.6 126.7 L407.2 127.0 L407.9 127.2 L408.5 127.5 L409.2 127.8 L409.8 128.0 L410.4 128.3 L411.1 128.6 L411.7 128.8 L412.4 129.1 L413.0 129.4 L413.6 129.6 L414.3 129.9 L414.9 130.2 L415.6 130.5 L416.2 130.7 L416.9 131.0 L417.5 131.3 L418.1 131.5 L418.8 131.8 L419.4 132.1 L420.1 132.3 L420.7 132.6 L421.3 132.9 L422.0 133.2 L422.6 133.4 L423.3 133.7 L423.9 134.0 L424.6 134.3 L425.2 134.5 L425.8 134.8 L426.5 135.1 L427.1 135.4 L427.8 135.6 L428.4 135.9 L429.0 136.2 L429.7 136.5 L430.3 136.7 L431.0 137.0 L431.6 137.3 L432.3 137.6 L432.9 137.8 L433.5 138.1 L434.2 138.4 L434.8 138.7 L435.5 139.0 L436.1 139.2 L436.7 139.5 L437.4 139.8 L438.0 140.1 L438.7 140.4 L439.3 140.6 L440.0 140.9 L440.6 141.2 L441.2 141.5 L441.9 141.8 L442.5 142.1 L443.2 142.3 L443.8 142.6 L444.4 142.9 L445.1 143.2 L445.7 143.5 L446.4 143.8 L447.0 144.0 L447.7 144.3 L448.3 144.6 L448.9 144.9 L449.6 145.2 L450.2 145.5 L450.9 145.8 L451.5 146.1 L452.1 146.3 L452.8 146.6 L453.4 146.9 L454.1 147.2 L454.7 147.5 L455.4 147.8 L456.0 148.1 L456.6 148.4 L457.3 148.7 L457.9 148.9 L458.6 149.2 L459.2 149.5 L459.8 149.8 L460.5 150.1 L461.1 150.4 L461.8 150.7 L462.4 151.0 L463.1 151.3 L463.7 151.6 L464.3 151.9 L465.0 152.2 L465.6 152.5 L466.3 152.8 L466.9 153.0 L467.5 153.3 L468.2 153.6 L468.8 153.9 L469.5 154.2 L470.1 154.5 L470.8 154.8 L471.4 155.1 L472.0 155.4 L472.7 155.7 L473.3 156.0 L474.0 156.3 L474.6 156.6 L475.2 156.9 L475.9 157.2 L476.5 157.5 L477.2 157.8 L477.8 158.1 L478.5 158.4 L479.1 158.7 L479.7 159.0 L480.4 159.3 L481.0 159.6 L481.7 159.9 L482.3 160.2 L482.9 160.5 L483.6 160.8 L484.2 161.1 L484.9 161.4 L485.5 161.7 L486.2 162.0 L486.8 162.3 L487.4 162.6 L488.1 162.9 L488.7 163.2 L489.4 163.5 L490.0 163.8 L490.6 164.1 L491.3 164.4 L491.9 164.7 L492.6 165.0 L493.2 165.3 L493.9 165.6 L494.5 165.9 L495.1 166.2 L495.8 166.5 L496.4 166.8 L497.1 167.2 L497.7 167.5 L498.3 167.8 L499.0 168.1 L499.6 168.4 L500.3 168.7 L500.9 169.0 L501.6 169.3 L502.2 169.6 L502.8 170.0 L503.5 170.3 L504.1 170.6 L504.8 170.9 L505.4 171.2 L506.0 171.5 L506.7 171.8 L507.3 172.2 L508.0 172.5 L508.6 172.8 L509.3 173.1 L509.9 173.4 L510.5 173.8 L511.2 174.1 L511.8 174.4 L512.5 174.7 L513.1 175.0 L513.7 175.4 L514.4 175.7 L515.0 176.0 L515.7 176.3 L516.3 176.7 L517.0 177.0 L517.6 177.3 L518.2 177.6 L518.9 178.0 L519.5 178.3 L520.2 178.6 L520.8 179.0 L521.4 179.3 L522.1 179.6 L522.7 180.0 L523.4 180.3 L524.0 180.6 L524.7 180.9 L525.3 181.3 L525.9 181.6 L526.6 181.9 L527.2 182.3 L527.9 182.6 L528.5 182.9 L529.1 183.3 L529.8 183.6 L530.4 183.9 L531.1 184.3 L531.7 184.6 L532.4 184.9 L533.0 185.3 L533.6 185.6 L534.3 185.9 L534.9 186.3 L535.6 186.6 L536.2 187.0 L536.8 187.3 L537.5 187.6 L538.1 188.0 L538.8 188.3 L539.4 188.7 L540.1 189.0 L540.7 189.3 L541.3 189.7 L542.0 190.0 L542.6 190.4 L543.3 190.7 L543.9 191.1 L544.6 191.4 L545.2 191.8 L545.8 192.1 L546.5 192.5 L547.1 192.9 L547.8 193.2 L548.4 193.6 L549.0 193.9 L549.7 194.3 L550.3 194.7 L551.0 195.0 L551.6 195.4 L552.3 195.8 L552.9 196.1 L553.5 196.5 L554.2 196.9 L554.8 197.3 L555.5 197.6 L556.1 198.0 L556.7 198.4 L557.4 198.8 L558.0 199.2 L558.7 199.6 L559.3 200.0 L560.0 200.4 L560.6 200.8 L561.2 201.2 L561.9 201.6 L562.5 202.0 L563.2 202.4 L563.8 202.8 L564.4 203.2 L565.1 203.6 L565.7 204.0 L566.4 204.4 L567.0 204.8 L567.7 205.2 L568.3 205.6 L568.9 206.1 L569.6 206.5 L570.2 206.9 L570.9 207.3 L571.5 207.8 L572.1 208.2 L572.8 208.6 L573.4 209.0 L574.1 209.5 L574.7 209.9 L575.4 210.4 L576.0 210.8 L576.6 211.2 L577.3 211.7 L577.9 212.1 L578.6 212.6 L579.2 213.0 L579.8 213.4 L580.5 213.9 L581.1 214.3 L581.8 214.8 L582.4 215.2 L583.1 215.7 L583.7 216.2 L584.3 216.6 L585.0 217.1 L585.6 217.5 L586.3 218.0 L586.9 218.5 L587.5 218.9 L588.2 219.4 L588.8 219.9 L589.5 220.3 L590.1 220.8 L590.8 221.3 L591.4 221.7 L592.0 222.2 L592.7 222.7 L593.3 223.2 L594.0 223.6 L594.6 224.1 L595.2 224.6 L595.9 225.1 L596.5 225.6 L597.2 226.1 L597.8 226.6 L598.5 227.0 L599.1 227.5 L599.7 228.0 L600.4 228.5 L601.0 229.0 L601.7 229.5 L602.3 230.0 L602.9 230.5 L603.6 231.0 L604.2 231.6 L604.9 232.1 L605.5 232.6 L606.2 233.1 L606.8 233.6 L607.4 234.1 L608.1 234.7 L608.7 235.2 L609.4 235.7 L610.0 236.3 L610.6 236.8 L611.3 237.4 L611.9 237.9 L612.6 238.4 L613.2 239.0 L613.9 239.6 L614.5 240.1 L615.1 240.7 L615.8 241.3 L616.4 241.8 L617.1 242.4 L617.7 243.0 L618.3 243.6 L619.0 244.1 L619.6 244.7 L620.3 245.3 L620.9 245.9 L621.6 246.5 L622.2 247.2 L622.8 247.8 L623.5 248.4 L624.1 249.0 L624.8 249.7 L625.4 250.3 L626.0 250.9 L626.7 251.6 L627.3 252.2 L628.0 252.9 L628.6 253.6 L629.3 254.2 L629.9 254.9 L630.5 255.6 L631.2 256.3 L631.8 257.0 L632.5 257.7 L633.1 258.5 L633.7 259.2 L634.4 260.0 L635.0 260.7 L635.7 261.5 L636.3 262.3 L637.0 263.1 L637.6 263.9 L638.2 264.7 L638.9 265.5 L639.5 266.3 L640.2 267.2 L640.8 268.1 L641.4 269.0 L642.1 269.9 L642.7 270.8 L643.4 271.8 L644.0 272.7 L644.7 273.7 L645.3 274.7 L645.9 275.8 L646.6 276.8 L647.2 277.9 L647.9 279.1 L648.5 280.2 L649.1 281.4 L649.8 282.7 L650.4 284.0 L651.1 285.4 L651.7 286.8 L652.4 288.3 L653.0 289.9 L653.6 291.7 L654.3 293.5 L654.9 295.6 L655.6 297.9 L656.2 300.6 L656.8 303.9 L657.5 309.0" fill="none" stroke="#800080" stroke-width="2.50" stroke-dasharray="5.8 4.8" stroke-linejoin="round"/>
<circle cx="80.5" cy="16.0" r="4.45" fill="#ff8000"/>
<circle cx="80.5" cy="24.6" r="4.45" fill="#800080"/>
<circle cx="88.7" cy="33.4" r="4.45" fill="#0000ff"/>
<circle cx="80.2" cy="314.3" r="2.85" fill="#ff8000"/>
<circle cx="80.3" cy="313.9" r="2.85" fill="#800080"/>
<circle cx="88.6" cy="313.8" r="2.85" fill="#0000ff"/>
<line x1="354.6" x2="354.6" y1="165.5" y2="326.3" stroke="#9a9a9a" stroke-width="0.80"/>
<line x1="354.6" x2="615.3" y1="270.4" y2="270.4" stroke="#9a9a9a" stroke-width="0.80"/>
<line x1="354.6" x2="358.0" y1="203.7" y2="203.7" stroke="#9a9a9a" stroke-width="0.80"/>
<line x1="354.6" x2="358.0" y1="304.3" y2="304.3" stroke="#9a9a9a" stroke-width="0.80"/>
<line x1="407.0" x2="407.0" y1="267.2" y2="270.4" stroke="#9a9a9a" stroke-width="0.80"/>
<line x1="553.4" x2="553.4" y1="267.2" y2="270.4" stroke="#9a9a9a" stroke-width="0.80"/>
<path d="M371.2 172.2 L372.4 173.8 L373.7 175.4 L374.9 177.0 L376.1 178.6 L377.3 180.1 L378.6 181.7 L379.8 183.2 L381.0 184.7 L382.2 186.2 L383.5 187.7 L384.7 189.2 L385.9 190.6 L387.1 192.1 L388.4 193.5 L389.6 194.9 L390.8 196.3 L392.0 197.7 L393.3 199.1 L394.5 200.5 L395.7 201.8 L396.9 203.1 L398.2 204.4 L399.4 205.6 L400.6 206.8 L401.8 208.0 L403.1 209.1 L404.3 210.2 L405.5 211.3 L406.7 212.4 L408.0 213.4 L409.2 214.4 L410.4 215.4 L411.6 216.3 L412.9 217.3 L414.1 218.2 L415.3 219.1 L416.5 219.9 L417.8 220.8 L419.0 221.6 L420.2 222.4 L421.4 223.3 L422.7 224.0 L423.9 224.8 L425.1 225.6 L426.3 226.3 L427.6 227.0 L428.8 227.8 L430.0 228.5 L431.2 229.2 L432.5 229.8 L433.7 230.5 L434.9 231.2 L436.1 231.8 L437.4 232.4 L438.6 233.0 L439.8 233.7 L441.0 234.3 L442.3 234.8 L443.5 235.4 L444.7 236.0 L445.9 236.5 L447.2 237.1 L448.4 237.6 L449.6 238.1 L450.8 238.6 L452.1 239.0 L453.3 239.5 L454.5 239.9 L455.7 240.3 L457.0 240.8 L458.2 241.2 L459.4 241.6 L460.6 241.9 L461.9 242.3 L463.1 242.7 L464.3 243.0 L465.5 243.4 L466.8 243.7 L468.0 244.0 L469.2 244.3 L470.4 244.6 L471.7 245.0 L472.9 245.2 L474.1 245.5 L475.3 245.8 L476.6 246.1 L477.8 246.4 L479.0 246.7 L480.2 246.9 L481.5 247.2 L482.7 247.4 L483.9 247.7 L485.1 247.9 L486.4 248.2 L487.6 248.4 L488.8 248.6 L490.0 248.9 L491.3 249.1 L492.5 249.3 L493.7 249.5 L494.9 249.7 L496.2 249.9 L497.4 250.1 L498.6 250.3 L499.8 250.5 L501.1 250.7 L502.3 250.9 L503.5 251.1 L504.7 251.3 L506.0 251.5 L507.2 251.7 L508.4 251.9 L509.6 252.1 L510.9 252.3 L512.1 252.5 L513.3 252.7 L514.5 252.9 L515.8 253.1 L517.0 253.3 L518.2 253.5 L519.4 253.7 L520.7 253.9 L521.9 254.1 L523.1 254.3 L524.3 254.5 L525.6 254.7 L526.8 254.9 L528.0 255.1 L529.2 255.3 L530.5 255.5 L531.7 255.7 L532.9 255.8 L534.1 256.0 L535.4 256.2 L536.6 256.4 L537.8 256.6 L539.0 256.8 L540.3 256.9 L541.5 257.1 L542.7 257.3 L543.9 257.4 L545.2 257.6 L546.4 257.8 L547.6 257.9 L548.8 258.1 L550.1 258.2 L551.3 258.4 L552.5 258.5 L553.7 258.6 L555.0 258.7 L556.2 258.9 L557.4 259.0 L558.6 259.1 L559.9 259.2 L561.1 259.3 L562.3 259.5 L563.5 259.6 L564.8 259.7 L566.0 259.8 L567.2 259.9 L568.4 260.0 L569.7 260.1 L570.9 260.3 L572.1 260.4 L573.3 260.5 L574.6 260.6 L575.8 260.7 L577.0 260.8 L578.2 260.9 L579.5 261.0 L580.7 261.1 L581.9 261.2 L583.1 261.3 L584.4 261.4 L585.6 261.5 L586.8 261.6 L588.0 261.7 L589.3 261.8 L590.5 261.8 L591.7 261.9 L592.9 262.0 L594.2 262.1 L595.4 262.2 L596.6 262.2 L597.8 262.3 L599.1 262.4 L600.3 262.5 L601.5 262.5 L602.7 262.6 L604.0 262.7 L605.2 262.7 L606.4 262.8 L607.6 262.8 L608.9 262.9 L610.1 262.9 L611.3 263.0 L612.5 263.0 L613.8 263.1 L615.0 263.1" fill="none" stroke="#000" stroke-width="2.50" stroke-dasharray="5.0 5.6" stroke-linejoin="round"/>
<path d="M371.0 318.6 L372.2 317.9 L373.5 317.2 L374.7 316.6 L375.9 315.9 L377.1 315.2 L378.4 314.6 L379.6 314.0 L380.8 313.3 L382.0 312.7 L383.3 312.1 L384.5 311.5 L385.7 310.9 L386.9 310.3 L388.2 309.8 L389.4 309.2 L390.6 308.7 L391.8 308.1 L393.1 307.6 L394.3 307.1 L395.5 306.6 L396.7 306.1 L398.0 305.6 L399.2 305.1 L400.4 304.6 L401.7 304.1 L402.9 303.6 L404.1 303.1 L405.3 302.6 L406.6 302.1 L407.8 301.6 L409.0 301.2 L410.2 300.7 L411.5 300.3 L412.7 299.9 L413.9 299.5 L415.1 299.1 L416.4 298.7 L417.6 298.3 L418.8 298.0 L420.0 297.6 L421.3 297.3 L422.5 296.9 L423.7 296.6 L424.9 296.3 L426.2 296.0 L427.4 295.7 L428.6 295.4 L429.9 295.1 L431.1 294.9 L432.3 294.6 L433.5 294.3 L434.8 294.1 L436.0 293.8 L437.2 293.5 L438.4 293.3 L439.7 293.0 L440.9 292.7 L442.1 292.4 L443.3 292.2 L444.6 291.9 L445.8 291.6 L447.0 291.4 L448.2 291.1 L449.5 290.9 L450.7 290.7 L451.9 290.4 L453.2 290.2 L454.4 290.0 L455.6 289.8 L456.8 289.5 L458.1 289.3 L459.3 289.1 L460.5 288.9 L461.7 288.7 L463.0 288.5 L464.2 288.3 L465.4 288.1 L466.6 287.9 L467.9 287.7 L469.1 287.6 L470.3 287.4 L471.5 287.2 L472.8 287.0 L474.0 286.8 L475.2 286.7 L476.4 286.5 L477.7 286.3 L478.9 286.2 L480.1 286.0 L481.4 285.8 L482.6 285.7 L483.8 285.5 L485.0 285.4 L486.3 285.2 L487.5 285.0 L488.7 284.9 L489.9 284.7 L491.2 284.6 L492.4 284.4 L493.6 284.3 L494.8 284.2 L496.1 284.0 L497.3 283.9 L498.5 283.7 L499.7 283.5 L501.0 283.4 L502.2 283.2 L503.4 283.1 L504.6 282.9 L505.9 282.8 L507.1 282.6 L508.3 282.5 L509.6 282.3 L510.8 282.1 L512.0 282.0 L513.2 281.8 L514.5 281.7 L515.7 281.5 L516.9 281.4 L518.1 281.2 L519.4 281.1 L520.6 280.9 L521.8 280.8 L523.0 280.6 L524.3 280.5 L525.5 280.3 L526.7 280.2 L527.9 280.0 L529.2 279.9 L530.4 279.7 L531.6 279.6 L532.8 279.4 L534.1 279.3 L535.3 279.1 L536.5 279.0 L537.8 278.8 L539.0 278.7 L540.2 278.6 L541.4 278.4 L542.7 278.3 L543.9 278.2 L545.1 278.0 L546.3 277.9 L547.6 277.8 L548.8 277.7 L550.0 277.5 L551.2 277.4 L552.5 277.3 L553.7 277.2 L554.9 277.1 L556.1 277.0 L557.4 276.9 L558.6 276.8 L559.8 276.7 L561.1 276.6 L562.3 276.5 L563.5 276.4 L564.7 276.3 L566.0 276.2 L567.2 276.1 L568.4 276.0 L569.6 275.9 L570.9 275.8 L572.1 275.7 L573.3 275.6 L574.5 275.6 L575.8 275.5 L577.0 275.4 L578.2 275.3 L579.4 275.2 L580.7 275.1 L581.9 275.0 L583.1 274.9 L584.3 274.9 L585.6 274.8 L586.8 274.7 L588.0 274.6 L589.3 274.5 L590.5 274.5 L591.7 274.4 L592.9 274.3 L594.2 274.2 L595.4 274.2 L596.6 274.1 L597.8 274.0 L599.1 274.0 L600.3 273.9 L601.5 273.8 L602.7 273.8 L604.0 273.7 L605.2 273.7 L606.4 273.6 L607.6 273.5 L608.9 273.5 L610.1 273.4 L611.3 273.4 L612.5 273.3 L613.8 273.3 L615.0 273.3" fill="none" stroke="#000" stroke-width="2.80" stroke-linejoin="round"/>
<path d="M80.5 598.5 L81.3 598.2 L82.2 597.8 L83.0 597.5 L83.8 597.2 L84.6 596.9 L85.5 596.5 L86.3 596.2 L87.1 595.9 L87.9 595.6 L88.8 595.3 L89.6 595.0 L90.4 594.7 L91.2 594.4 L92.1 594.1 L92.9 593.8 L93.7 593.5 L94.5 593.2 L95.4 593.0 L96.2 592.7 L97.0 592.4 L97.8 592.1 L98.7 591.8 L99.5 591.6 L100.3 591.3 L101.1 591.0 L102.0 590.8 L102.8 590.5 L103.6 590.3 L104.4 590.0 L105.3 589.8 L106.1 589.5 L106.9 589.3 L107.7 589.0 L108.6 588.8 L109.4 588.5 L110.2 588.3 L111.0 588.1 L111.9 587.9 L112.7 587.6 L113.5 587.4 L114.3 587.2 L115.2 587.0 L116.0 586.7 L116.8 586.5 L117.7 586.3 L118.5 586.1 L119.3 585.9 L120.1 585.7 L121.0 585.5 L121.8 585.3 L122.6 585.1 L123.4 584.9 L124.3 584.7 L125.1 584.5 L125.9 584.3 L126.7 584.2 L127.6 584.0 L128.4 583.8 L129.2 583.6 L130.0 583.4 L130.9 583.3 L131.7 583.1 L132.5 582.9 L133.3 582.8 L134.2 582.6 L135.0 582.4 L135.8 582.3 L136.6 582.1 L137.5 582.0 L138.3 581.8 L139.1 581.7 L139.9 581.5 L140.8 581.4 L141.6 581.2 L142.4 581.1 L143.2 580.9 L144.1 580.8 L144.9 580.7 L145.7 580.5 L146.5 580.4 L147.4 580.3 L148.2 580.2 L149.0 580.0 L149.9 579.9 L150.7 579.8 L151.5 579.7 L152.3 579.6 L153.2 579.4 L154.0 579.3 L154.8 579.2 L155.6 579.1 L156.5 579.0 L157.3 578.9 L158.1 578.8 L158.9 578.7 L159.8 578.6 L160.6 578.5 L161.4 578.4 L162.2 578.3 L163.1 578.2 L163.9 578.1 L164.7 578.1 L165.5 578.0 L166.4 577.9 L167.2 577.8 L168.0 577.7 L168.8 577.7 L169.7 577.6 L170.5 577.5 L171.3 577.4 L172.1 577.4 L173.0 577.3 L173.8 577.2 L174.6 577.2 L175.4 577.1 L176.3 577.0 L177.1 577.0 L177.9 576.9 L178.7 576.9 L179.6 576.8 L180.4 576.8 L181.2 576.7 L182.0 576.7 L182.9 576.6 L183.7 576.6 L184.5 576.5 L185.4 576.5 L186.2 576.4 L187.0 576.4 L187.8 576.4 L188.7 576.3 L189.5 576.3 L190.3 576.3 L191.1 576.2 L192.0 576.2 L192.8 576.2 L193.6 576.1 L194.4 576.1 L195.3 576.1 L196.1 576.1 L196.9 576.0 L197.7 576.0 L198.6 576.0 L199.4 576.0 L200.2 576.0 L201.0 576.0 L201.9 575.9 L202.7 575.9 L203.5 575.9 L204.3 575.9 L205.2 575.9 L206.0 575.9 L206.8 575.9 L207.6 575.9 L208.5 575.9 L209.3 575.9 L210.1 575.9 L210.9 575.9 L211.8 575.9 L212.6 575.9 L213.4 575.9 L214.2 575.9 L215.1 575.9 L215.9 575.9 L216.7 575.9 L217.6 575.9 L218.4 576.0 L219.2 576.0 L220.0 576.0 L220.9 576.0 L221.7 576.0 L222.5 576.0 L223.3 576.0 L224.2 576.1 L225.0 576.1 L225.8 576.1 L226.6 576.1 L227.5 576.2 L228.3 576.2 L229.1 576.2 L229.9 576.2 L230.8 576.3 L231.6 576.3 L232.4 576.3 L233.2 576.4 L234.1 576.4 L234.9 576.4 L235.7 576.5 L236.5 576.5 L237.4 576.5 L238.2 576.6 L239.0 576.6 L239.8 576.6 L240.7 576.7 L241.5 576.7 L242.3 576.8 L243.1 576.8 L244.0 576.8 L244.8 576.9 L245.6 576.9 L246.4 577.0 L247.3 577.0 L248.1 577.1 L248.9 577.1 L249.7 577.2 L250.6 577.2 L251.4 577.3 L252.2 577.3 L253.1 577.4 L253.9 577.4 L254.7 577.5 L255.5 577.5 L256.4 577.6 L257.2 577.6 L258.0 577.7 L258.8 577.7 L259.7 577.8 L260.5 577.9 L261.3 577.9 L262.1 578.0 L263.0 578.0 L263.8 578.1 L264.6 578.1 L265.4 578.2 L266.3 578.3 L267.1 578.3 L267.9 578.4 L268.7 578.5 L269.6 578.5 L270.4 578.6 L271.2 578.6 L272.0 578.7 L272.9 578.8 L273.7 578.8 L274.5 578.9 L275.3 579.0 L276.2 579.0 L277.0 579.1 L277.8 579.2 L278.6 579.2 L279.5 579.3 L280.3 579.4 L281.1 579.4 L281.9 579.5 L282.8 579.6 L283.6 579.6 L284.4 579.7 L285.3 579.8 L286.1 579.8 L286.9 579.9 L287.7 580.0 L288.6 580.1 L289.4 580.1 L290.2 580.2 L291.0 580.3 L291.9 580.3 L292.7 580.4 L293.5 580.5 L294.3 580.6 L295.2 580.6 L296.0 580.7 L296.8 580.8 L297.6 580.9 L298.5 580.9 L299.3 581.0 L300.1 581.1 L300.9 581.1 L301.8 581.2 L302.6 581.3 L303.4 581.4 L304.2 581.4 L305.1 581.5 L305.9 581.6 L306.7 581.7 L307.5 581.7 L308.4 581.8 L309.2 581.9 L310.0 582.0 L310.8 582.0 L311.7 582.1 L312.5 582.2 L313.3 582.3 L314.1 582.4 L315.0 582.4 L315.8 582.5 L316.6 582.6 L317.4 582.7 L318.3 582.7 L319.1 582.8 L319.9 582.9 L320.8 583.0 L321.6 583.0 L322.4 583.1 L323.2 583.2 L324.1 583.3 L324.9 583.4 L325.7 583.4 L326.5 583.5 L327.4 583.6 L328.2 583.7 L329.0 583.8 L329.8 583.8 L330.7 583.9 L331.5 584.0 L332.3 584.1 L333.1 584.1 L334.0 584.2 L334.8 584.3 L335.6 584.4 L336.4 584.5 L337.3 584.5 L338.1 584.6 L338.9 584.7 L339.7 584.8 L340.6 584.9 L341.4 584.9 L342.2 585.0 L343.0 585.1 L343.9 585.2 L344.7 585.3 L345.5 585.3 L346.3 585.4 L347.2 585.5 L348.0 585.6 L348.8 585.7 L349.6 585.7 L350.5 585.8 L351.3 585.9 L352.1 586.0 L353.0 586.1 L353.8 586.1 L354.6 586.2 L355.4 586.3 L356.3 586.4 L357.1 586.5 L357.9 586.5 L358.7 586.6 L359.6 586.7 L360.4 586.8 L361.2 586.8 L362.0 586.9 L362.9 587.0 L363.7 587.1 L364.5 587.2 L365.3 587.2 L366.2 587.3 L367.0 587.4 L367.8 587.5 L368.6 587.6 L369.5 587.6 L370.3 587.7 L371.1 587.8 L371.9 587.9 L372.8 587.9 L373.6 588.0 L374.4 588.1 L375.2 588.2 L376.1 588.2 L376.9 588.3 L377.7 588.4 L378.5 588.5 L379.4 588.6 L380.2 588.6 L381.0 588.7 L381.8 588.8 L382.7 588.9 L383.5 588.9 L384.3 589.0 L385.1 589.1 L386.0 589.2 L386.8 589.2 L387.6 589.3 L388.5 589.4 L389.3 589.5 L390.1 589.5 L390.9 589.6 L391.8 589.7 L392.6 589.8 L393.4 589.8 L394.2 589.9 L395.1 590.0 L395.9 590.0 L396.7 590.1 L397.5 590.2 L398.4 590.3 L399.2 590.3 L400.0 590.4 L400.8 590.5 L401.7 590.5 L402.5 590.6 L403.3 590.7 L404.1 590.8 L405.0 590.8 L405.8 590.9 L406.6 591.0 L407.4 591.0 L408.3 591.1 L409.1 591.2 L409.9 591.2 L410.7 591.3 L411.6 591.4 L412.4 591.4 L413.2 591.5 L414.0 591.6 L414.9 591.6 L415.7 591.7 L416.5 591.8 L417.3 591.8 L418.2 591.9 L419.0 592.0 L419.8 592.0 L420.7 592.1 L421.5 592.2 L422.3 592.2 L423.1 592.3 L424.0 592.3 L424.8 592.4 L425.6 592.5 L426.4 592.5 L427.3 592.6 L428.1 592.7 L428.9 592.7 L429.7 592.8 L430.6 592.8 L431.4 592.9 L432.2 592.9 L433.0 593.0 L433.9 593.1 L434.7 593.1 L435.5 593.2 L436.3 593.2 L437.2 593.3 L438.0 593.3 L438.8 593.4 L439.6 593.5 L440.5 593.5 L441.3 593.6 L442.1 593.6 L442.9 593.7 L443.8 593.7 L444.6 593.8 L445.4 593.8 L446.2 593.9 L447.1 593.9 L447.9 594.0 L448.7 594.0 L449.5 594.1 L450.4 594.1 L451.2 594.2 L452.0 594.2 L452.8 594.3 L453.7 594.3 L454.5 594.4 L455.3 594.4 L456.2 594.5 L457.0 594.5 L457.8 594.6 L458.6 594.6 L459.5 594.6 L460.3 594.7 L461.1 594.7 L461.9 594.8 L462.8 594.8 L463.6 594.9 L464.4 594.9 L465.2 594.9 L466.1 595.0 L466.9 595.0 L467.7 595.1 L468.5 595.1 L469.4 595.1 L470.2 595.2 L471.0 595.2 L471.8 595.3 L472.7 595.3 L473.5 595.3 L474.3 595.4 L475.1 595.4 L476.0 595.4 L476.8 595.5 L477.6 595.5 L478.4 595.5 L479.3 595.6 L480.1 595.6 L480.9 595.6 L481.7 595.7 L482.6 595.7 L483.4 595.7 L484.2 595.8 L485.0 595.8 L485.9 595.8 L486.7 595.9 L487.5 595.9 L488.4 595.9 L489.2 596.0 L490.0 596.0 L490.8 596.0 L491.7 596.0 L492.5 596.1 L493.3 596.1 L494.1 596.1 L495.0 596.2 L495.8 596.2 L496.6 596.2 L497.4 596.2 L498.3 596.3 L499.1 596.3 L499.9 596.3 L500.7 596.3 L501.6 596.4 L502.4 596.4 L503.2 596.4 L504.0 596.4 L504.9 596.5 L505.7 596.5 L506.5 596.5 L507.3 596.5 L508.2 596.6 L509.0 596.6 L509.8 596.6 L510.6 596.6 L511.5 596.6 L512.3 596.7 L513.1 596.7 L513.9 596.7 L514.8 596.7 L515.6 596.8 L516.4 596.8 L517.2 596.8 L518.1 596.8 L518.9 596.8 L519.7 596.8 L520.5 596.9 L521.4 596.9 L522.2 596.9 L523.0 596.9 L523.9 596.9 L524.7 597.0 L525.5 597.0 L526.3 597.0 L527.2 597.0 L528.0 597.0 L528.8 597.0 L529.6 597.1 L530.5 597.1 L531.3 597.1 L532.1 597.1 L532.9 597.1 L533.8 597.1 L534.6 597.1 L535.4 597.2 L536.2 597.2 L537.1 597.2 L537.9 597.2 L538.7 597.2 L539.5 597.2 L540.4 597.2 L541.2 597.3 L542.0 597.3 L542.8 597.3 L543.7 597.3 L544.5 597.3 L545.3 597.3 L546.1 597.3 L547.0 597.3 L547.8 597.4 L548.6 597.4 L549.4 597.4 L550.3 597.4 L551.1 597.4 L551.9 597.4 L552.7 597.4 L553.6 597.4 L554.4 597.5 L555.2 597.5 L556.1 597.5 L556.9 597.5 L557.7 597.5 L558.5 597.5 L559.4 597.5 L560.2 597.5 L561.0 597.5 L561.8 597.5 L562.7 597.6 L563.5 597.6 L564.3 597.6 L565.1 597.6 L566.0 597.6 L566.8 597.6 L567.6 597.6 L568.4 597.6 L569.3 597.6 L570.1 597.6 L570.9 597.6 L571.7 597.6 L572.6 597.7 L573.4 597.7 L574.2 597.7 L575.0 597.7 L575.9 597.7 L576.7 597.7 L577.5 597.7 L578.3 597.7 L579.2 597.7 L580.0 597.7 L580.8 597.7 L581.6 597.7 L582.5 597.7 L583.3 597.8 L584.1 597.8 L584.9 597.8 L585.8 597.8 L586.6 597.8 L587.4 597.8 L588.2 597.8 L589.1 597.8 L589.9 597.8 L590.7 597.8 L591.6 597.8 L592.4 597.8 L593.2 597.8 L594.0 597.8 L594.9 597.9 L595.7 597.9 L596.5 597.9 L597.3 597.9 L598.2 597.9 L599.0 597.9 L599.8 597.9 L600.6 597.9 L601.5 597.9 L602.3 597.9 L603.1 597.9 L603.9 597.9 L604.8 597.9 L605.6 597.9 L606.4 597.9 L607.2 598.0 L608.1 598.0 L608.9 598.0 L609.7 598.0 L610.5 598.0 L611.4 598.0 L612.2 598.0 L613.0 598.0 L613.8 598.0 L614.7 598.0 L615.5 598.0 L616.3 598.0 L617.1 598.0 L618.0 598.0 L618.8 598.0 L619.6 598.1 L620.4 598.1 L621.3 598.1 L622.1 598.1 L622.9 598.1 L623.8 598.1 L624.6 598.1 L625.4 598.1 L626.2 598.1 L627.1 598.1 L627.9 598.1 L628.7 598.1 L629.5 598.2 L630.4 598.2 L631.2 598.2 L632.0 598.2 L632.8 598.2 L633.7 598.2 L634.5 598.2 L635.3 598.2 L636.1 598.2 L637.0 598.2 L637.8 598.2 L638.6 598.2 L639.4 598.3 L640.3 598.3 L641.1 598.3 L641.9 598.3 L642.7 598.3 L643.6 598.3 L644.4 598.3 L645.2 598.3 L646.0 598.3 L646.9 598.3 L647.7 598.4 L648.5 598.4 L649.3 598.4 L650.2 598.4 L651.0 598.4 L651.8 598.4 L652.6 598.4 L653.5 598.4 L654.3 598.5 L655.1 598.5 L655.9 598.5 L656.8 598.5 L657.6 598.5" fill="none" stroke="#ff8000" stroke-width="2.50" stroke-linejoin="round"/>
<path d="M80.3 598.8 L81.1 601.4 L82.0 604.0 L82.8 606.5 L83.6 608.9 L84.4 611.2 L85.3 613.5 L86.1 615.7 L86.9 617.9 L87.7 619.9 L88.6 621.9 L89.4 623.8 L90.2 625.6 L91.0 627.4 L91.9 629.0 L92.7 630.6 L93.5 632.1 L94.3 633.5 L95.2 634.9 L96.0 636.1 L96.8 637.3 L97.6 638.4 L98.5 639.4 L99.3 640.3 L100.1 641.1 L100.9 641.9 L101.8 642.6 L102.6 643.2 L103.4 643.7 L104.3 644.2 L105.1 644.5 L105.9 644.9 L106.7 645.1 L107.6 645.3 L108.4 645.5 L109.2 645.5 L110.0 645.6 L110.9 645.5 L111.7 645.5 L112.5 645.3 L113.3 645.2 L114.2 644.9 L115.0 644.7 L115.8 644.4 L116.6 644.1 L117.5 643.7 L118.3 643.3 L119.1 642.9 L119.9 642.5 L120.8 642.0 L121.6 641.5 L122.4 641.0 L123.2 640.5 L124.1 640.0 L124.9 639.5 L125.7 638.9 L126.6 638.4 L127.4 637.8 L128.2 637.3 L129.0 636.7 L129.9 636.2 L130.7 635.6 L131.5 635.0 L132.3 634.5 L133.2 633.9 L134.0 633.4 L134.8 632.8 L135.6 632.2 L136.5 631.7 L137.3 631.1 L138.1 630.5 L138.9 630.0 L139.8 629.4 L140.6 628.8 L141.4 628.3 L142.2 627.7 L143.1 627.1 L143.9 626.6 L144.7 626.0 L145.5 625.4 L146.4 624.9 L147.2 624.3 L148.0 623.7 L148.8 623.2 L149.7 622.6 L150.5 622.1 L151.3 621.5 L152.2 620.9 L153.0 620.4 L153.8 619.9 L154.6 619.3 L155.5 618.8 L156.3 618.2 L157.1 617.7 L157.9 617.2 L158.8 616.6 L159.6 616.1 L160.4 615.6 L161.2 615.1 L162.1 614.5 L162.9 614.0 L163.7 613.5 L164.5 613.0 L165.4 612.5 L166.2 612.0 L167.0 611.5 L167.8 611.1 L168.7 610.6 L169.5 610.1 L170.3 609.6 L171.1 609.2 L172.0 608.7 L172.8 608.3 L173.6 607.8 L174.5 607.4 L175.3 606.9 L176.1 606.5 L176.9 606.0 L177.8 605.6 L178.6 605.2 L179.4 604.8 L180.2 604.4 L181.1 604.0 L181.9 603.6 L182.7 603.2 L183.5 602.8 L184.4 602.4 L185.2 602.0 L186.0 601.6 L186.8 601.2 L187.7 600.9 L188.5 600.5 L189.3 600.1 L190.1 599.8 L191.0 599.4 L191.8 599.1 L192.6 598.7 L193.4 598.4 L194.3 598.0 L195.1 597.7 L195.9 597.4 L196.8 597.0 L197.6 596.7 L198.4 596.4 L199.2 596.1 L200.1 595.8 L200.9 595.5 L201.7 595.2 L202.5 594.9 L203.4 594.6 L204.2 594.3 L205.0 594.0 L205.8 593.8 L206.7 593.5 L207.5 593.2 L208.3 592.9 L209.1 592.7 L210.0 592.4 L210.8 592.2 L211.6 591.9 L212.4 591.7 L213.3 591.4 L214.1 591.2 L214.9 590.9 L215.7 590.7 L216.6 590.5 L217.4 590.3 L218.2 590.0 L219.1 589.8 L219.9 589.6 L220.7 589.4 L221.5 589.2 L222.4 589.0 L223.2 588.8 L224.0 588.6 L224.8 588.4 L225.7 588.2 L226.5 588.0 L227.3 587.9 L228.1 587.7 L229.0 587.5 L229.8 587.3 L230.6 587.2 L231.4 587.0 L232.3 586.8 L233.1 586.7 L233.9 586.5 L234.7 586.4 L235.6 586.2 L236.4 586.1 L237.2 586.0 L238.0 585.8 L238.9 585.7 L239.7 585.6 L240.5 585.4 L241.3 585.3 L242.2 585.2 L243.0 585.1 L243.8 585.0 L244.7 584.8 L245.5 584.7 L246.3 584.6 L247.1 584.5 L248.0 584.4 L248.8 584.3 L249.6 584.2 L250.4 584.2 L251.3 584.1 L252.1 584.0 L252.9 583.9 L253.7 583.8 L254.6 583.8 L255.4 583.7 L256.2 583.6 L257.0 583.5 L257.9 583.5 L258.7 583.4 L259.5 583.4 L260.3 583.3 L261.2 583.3 L262.0 583.2 L262.8 583.2 L263.6 583.1 L264.5 583.1 L265.3 583.0 L266.1 583.0 L267.0 582.9 L267.8 582.9 L268.6 582.9 L269.4 582.9 L270.3 582.8 L271.1 582.8 L271.9 582.8 L272.7 582.8 L273.6 582.7 L274.4 582.7 L275.2 582.7 L276.0 582.7 L276.9 582.7 L277.7 582.7 L278.5 582.7 L279.3 582.7 L280.2 582.7 L281.0 582.7 L281.8 582.7 L282.6 582.7 L283.5 582.7 L284.3 582.7 L285.1 582.7 L285.9 582.7 L286.8 582.7 L287.6 582.8 L288.4 582.8 L289.3 582.8 L290.1 582.8 L290.9 582.8 L291.7 582.9 L292.6 582.9 L293.4 582.9 L294.2 582.9 L295.0 583.0 L295.9 583.0 L296.7 583.0 L297.5 583.1 L298.3 583.1 L299.2 583.1 L300.0 583.2 L300.8 583.2 L301.6 583.2 L302.5 583.3 L303.3 583.3 L304.1 583.4 L304.9 583.4 L305.8 583.5 L306.6 583.5 L307.4 583.5 L308.2 583.6 L309.1 583.6 L309.9 583.7 L310.7 583.7 L311.6 583.8 L312.4 583.8 L313.2 583.9 L314.0 584.0 L314.9 584.0 L315.7 584.1 L316.5 584.1 L317.3 584.2 L318.2 584.2 L319.0 584.3 L319.8 584.4 L320.6 584.4 L321.5 584.5 L322.3 584.5 L323.1 584.6 L323.9 584.7 L324.8 584.7 L325.6 584.8 L326.4 584.8 L327.2 584.9 L328.1 585.0 L328.9 585.0 L329.7 585.1 L330.5 585.2 L331.4 585.2 L332.2 585.3 L333.0 585.4 L333.8 585.4 L334.7 585.5 L335.5 585.6 L336.3 585.6 L337.2 585.7 L338.0 585.8 L338.8 585.8 L339.6 585.9 L340.5 586.0 L341.3 586.0 L342.1 586.1 L342.9 586.2 L343.8 586.2 L344.6 586.3 L345.4 586.4 L346.2 586.5 L347.1 586.5 L347.9 586.6 L348.7 586.7 L349.5 586.7 L350.4 586.8 L351.2 586.9 L352.0 587.0 L352.8 587.0 L353.7 587.1 L354.5 587.2 L355.3 587.2 L356.1 587.3 L357.0 587.4 L357.8 587.5 L358.6 587.5 L359.5 587.6 L360.3 587.7 L361.1 587.7 L361.9 587.8 L362.8 587.9 L363.6 588.0 L364.4 588.0 L365.2 588.1 L366.1 588.2 L366.9 588.3 L367.7 588.3 L368.5 588.4 L369.4 588.5 L370.2 588.5 L371.0 588.6 L371.8 588.7 L372.7 588.8 L373.5 588.8 L374.3 588.9 L375.1 589.0 L376.0 589.0 L376.8 589.1 L377.6 589.2 L378.4 589.3 L379.3 589.3 L380.1 589.4 L380.9 589.5 L381.8 589.5 L382.6 589.6 L383.4 589.7 L384.2 589.7 L385.1 589.8 L385.9 589.9 L386.7 590.0 L387.5 590.0 L388.4 590.1 L389.2 590.2 L390.0 590.2 L390.8 590.3 L391.7 590.4 L392.5 590.4 L393.3 590.5 L394.1 590.6 L395.0 590.6 L395.8 590.7 L396.6 590.8 L397.4 590.8 L398.3 590.9 L399.1 590.9 L399.9 591.0 L400.7 591.1 L401.6 591.1 L402.4 591.2 L403.2 591.3 L404.1 591.3 L404.9 591.4 L405.7 591.4 L406.5 591.5 L407.4 591.6 L408.2 591.6 L409.0 591.7 L409.8 591.7 L410.7 591.8 L411.5 591.9 L412.3 591.9 L413.1 592.0 L414.0 592.0 L414.8 592.1 L415.6 592.1 L416.4 592.2 L417.3 592.2 L418.1 592.3 L418.9 592.4 L419.7 592.4 L420.6 592.5 L421.4 592.5 L422.2 592.6 L423.0 592.6 L423.9 592.7 L424.7 592.7 L425.5 592.8 L426.3 592.8 L427.2 592.9 L428.0 592.9 L428.8 593.0 L429.7 593.0 L430.5 593.1 L431.3 593.1 L432.1 593.2 L433.0 593.2 L433.8 593.3 L434.6 593.3 L435.4 593.4 L436.3 593.4 L437.1 593.5 L437.9 593.5 L438.7 593.6 L439.6 593.6 L440.4 593.6 L441.2 593.7 L442.0 593.7 L442.9 593.8 L443.7 593.8 L444.5 593.9 L445.3 593.9 L446.2 594.0 L447.0 594.0 L447.8 594.0 L448.6 594.1 L449.5 594.1 L450.3 594.2 L451.1 594.2 L452.0 594.2 L452.8 594.3 L453.6 594.3 L454.4 594.4 L455.3 594.4 L456.1 594.4 L456.9 594.5 L457.7 594.5 L458.6 594.6 L459.4 594.6 L460.2 594.6 L461.0 594.7 L461.9 594.7 L462.7 594.8 L463.5 594.8 L464.3 594.8 L465.2 594.9 L466.0 594.9 L466.8 594.9 L467.6 595.0 L468.5 595.0 L469.3 595.0 L470.1 595.1 L470.9 595.1 L471.8 595.1 L472.6 595.2 L473.4 595.2 L474.3 595.2 L475.1 595.3 L475.9 595.3 L476.7 595.3 L477.6 595.4 L478.4 595.4 L479.2 595.4 L480.0 595.5 L480.9 595.5 L481.7 595.5 L482.5 595.6 L483.3 595.6 L484.2 595.6 L485.0 595.6 L485.8 595.7 L486.6 595.7 L487.5 595.7 L488.3 595.8 L489.1 595.8 L489.9 595.8 L490.8 595.8 L491.6 595.9 L492.4 595.9 L493.2 595.9 L494.1 596.0 L494.9 596.0 L495.7 596.0 L496.6 596.0 L497.4 596.1 L498.2 596.1 L499.0 596.1 L499.9 596.1 L500.7 596.2 L501.5 596.2 L502.3 596.2 L503.2 596.2 L504.0 596.3 L504.8 596.3 L505.6 596.3 L506.5 596.3 L507.3 596.4 L508.1 596.4 L508.9 596.4 L509.8 596.4 L510.6 596.4 L511.4 596.5 L512.2 596.5 L513.1 596.5 L513.9 596.5 L514.7 596.6 L515.5 596.6 L516.4 596.6 L517.2 596.6 L518.0 596.6 L518.8 596.7 L519.7 596.7 L520.5 596.7 L521.3 596.7 L522.2 596.7 L523.0 596.8 L523.8 596.8 L524.6 596.8 L525.5 596.8 L526.3 596.8 L527.1 596.9 L527.9 596.9 L528.8 596.9 L529.6 596.9 L530.4 596.9 L531.2 596.9 L532.1 597.0 L532.9 597.0 L533.7 597.0 L534.5 597.0 L535.4 597.0 L536.2 597.0 L537.0 597.1 L537.8 597.1 L538.7 597.1 L539.5 597.1 L540.3 597.1 L541.1 597.1 L542.0 597.2 L542.8 597.2 L543.6 597.2 L544.5 597.2 L545.3 597.2 L546.1 597.2 L546.9 597.3 L547.8 597.3 L548.6 597.3 L549.4 597.3 L550.2 597.3 L551.1 597.3 L551.9 597.3 L552.7 597.4 L553.5 597.4 L554.4 597.4 L555.2 597.4 L556.0 597.4 L556.8 597.4 L557.7 597.4 L558.5 597.4 L559.3 597.5 L560.1 597.5 L561.0 597.5 L561.8 597.5 L562.6 597.5 L563.4 597.5 L564.3 597.5 L565.1 597.5 L565.9 597.6 L566.8 597.6 L567.6 597.6 L568.4 597.6 L569.2 597.6 L570.1 597.6 L570.9 597.6 L571.7 597.6 L572.5 597.6 L573.4 597.7 L574.2 597.7 L575.0 597.7 L575.8 597.7 L576.7 597.7 L577.5 597.7 L578.3 597.7 L579.1 597.7 L580.0 597.7 L580.8 597.8 L581.6 597.8 L582.4 597.8 L583.3 597.8 L584.1 597.8 L584.9 597.8 L585.7 597.8 L586.6 597.8 L587.4 597.8 L588.2 597.8 L589.1 597.8 L589.9 597.9 L590.7 597.9 L591.5 597.9 L592.4 597.9 L593.2 597.9 L594.0 597.9 L594.8 597.9 L595.7 597.9 L596.5 597.9 L597.3 597.9 L598.1 597.9 L599.0 598.0 L599.8 598.0 L600.6 598.0 L601.4 598.0 L602.3 598.0 L603.1 598.0 L603.9 598.0 L604.7 598.0 L605.6 598.0 L606.4 598.0 L607.2 598.0 L608.0 598.0 L608.9 598.1 L609.7 598.1 L610.5 598.1 L611.3 598.1 L612.2 598.1 L613.0 598.1 L613.8 598.1 L614.7 598.1 L615.5 598.1 L616.3 598.1 L617.1 598.1 L618.0 598.1 L618.8 598.1 L619.6 598.2 L620.4 598.2 L621.3 598.2 L622.1 598.2 L622.9 598.2 L623.7 598.2 L624.6 598.2 L625.4 598.2 L626.2 598.2 L627.0 598.2 L627.9 598.2 L628.7 598.2 L629.5 598.2 L630.3 598.2 L631.2 598.3 L632.0 598.3 L632.8 598.3 L633.6 598.3 L634.5 598.3 L635.3 598.3 L636.1 598.3 L637.0 598.3 L637.8 598.3 L638.6 598.3 L639.4 598.3 L640.3 598.3 L641.1 598.3 L641.9 598.4 L642.7 598.4 L643.6 598.4 L644.4 598.4 L645.2 598.4 L646.0 598.4 L646.9 598.4 L647.7 598.4 L648.5 598.4 L649.3 598.4 L650.2 598.4 L651.0 598.4 L651.8 598.4 L652.6 598.5 L653.5 598.5 L654.3 598.5 L655.1 598.5 L655.9 598.5 L656.8 598.5 L657.6 598.5" fill="none" stroke="#800080" stroke-width="2.50" stroke-linejoin="round"/>
<path d="M88.8 598.0 L89.6 594.5 L90.4 590.9 L91.2 587.1 L92.0 583.2 L92.8 579.3 L93.6 575.3 L94.4 571.3 L95.3 567.4 L96.1 563.5 L96.9 559.7 L97.7 555.9 L98.5 552.2 L99.3 548.6 L100.1 545.0 L101.0 541.5 L101.8 538.0 L102.6 534.5 L103.4 531.1 L104.2 527.6 L105.0 524.3 L105.8 520.9 L106.7 517.6 L107.5 514.4 L108.3 511.2 L109.1 508.0 L109.9 504.9 L110.7 501.9 L111.5 498.9 L112.4 495.9 L113.2 493.0 L114.0 490.2 L114.8 487.4 L115.6 484.7 L116.4 482.0 L117.2 479.3 L118.0 476.7 L118.9 474.1 L119.7 471.5 L120.5 468.9 L121.3 466.4 L122.1 463.9 L122.9 461.4 L123.7 458.9 L124.6 456.5 L125.4 454.1 L126.2 451.7 L127.0 449.3 L127.8 447.0 L128.6 444.7 L129.4 442.4 L130.3 440.1 L131.1 437.9 L131.9 435.7 L132.7 433.5 L133.5 431.3 L134.3 429.2 L135.1 427.1 L136.0 425.0 L136.8 423.0 L137.6 420.9 L138.4 418.9 L139.2 417.0 L140.0 415.0 L140.8 413.1 L141.6 411.2 L142.5 409.3 L143.3 407.5 L144.1 405.6 L144.9 403.9 L145.7 402.1 L146.5 400.4 L147.3 398.6 L148.2 397.0 L149.0 395.3 L149.8 393.7 L150.6 392.1 L151.4 390.5 L152.2 388.9 L153.0 387.4 L153.9 385.9 L154.7 384.5 L155.5 383.0 L156.3 381.6 L157.1 380.2 L157.9 378.9 L158.7 377.6 L159.6 376.3 L160.4 375.0 L161.2 373.7 L162.0 372.5 L162.8 371.3 L163.6 370.2 L164.4 369.1 L165.2 368.0 L166.1 366.9 L166.9 365.8 L167.7 364.8 L168.5 363.8 L169.3 362.9 L170.1 362.0 L170.9 361.1 L171.8 360.2 L172.6 359.3 L173.4 358.5 L174.2 357.8 L175.0 357.0 L175.8 356.3 L176.6 355.6 L177.5 354.9 L178.3 354.3 L179.1 353.7 L179.9 353.1 L180.7 352.5 L181.5 352.0 L182.3 351.5 L183.2 351.0 L184.0 350.6 L184.8 350.2 L185.6 349.8 L186.4 349.5 L187.2 349.2 L188.0 348.9 L188.8 348.6 L189.7 348.4 L190.5 348.2 L191.3 348.0 L192.1 347.8 L192.9 347.7 L193.7 347.6 L194.5 347.6 L195.4 347.5 L196.2 347.5 L197.0 347.5 L197.8 347.6 L198.6 347.7 L199.4 347.8 L200.2 347.9 L201.1 348.1 L201.9 348.3 L202.7 348.5 L203.5 348.8 L204.3 349.0 L205.1 349.4 L205.9 349.7 L206.8 350.1 L207.6 350.5 L208.4 350.9 L209.2 351.3 L210.0 351.8 L210.8 352.3 L211.6 352.9 L212.4 353.4 L213.3 354.0 L214.1 354.6 L214.9 355.3 L215.7 356.0 L216.5 356.7 L217.3 357.4 L218.1 358.2 L219.0 359.0 L219.8 359.8 L220.6 360.6 L221.4 361.5 L222.2 362.4 L223.0 363.3 L223.8 364.3 L224.7 365.3 L225.5 366.3 L226.3 367.3 L227.1 368.4 L227.9 369.5 L228.7 370.6 L229.5 371.8 L230.4 373.0 L231.2 374.2 L232.0 375.4 L232.8 376.7 L233.6 378.0 L234.4 379.3 L235.2 380.6 L236.0 382.0 L236.9 383.3 L237.7 384.7 L238.5 386.2 L239.3 387.6 L240.1 389.1 L240.9 390.6 L241.7 392.1 L242.6 393.6 L243.4 395.2 L244.2 396.7 L245.0 398.3 L245.8 399.9 L246.6 401.6 L247.4 403.2 L248.3 404.9 L249.1 406.6 L249.9 408.3 L250.7 410.0 L251.5 411.7 L252.3 413.5 L253.1 415.2 L254.0 417.0 L254.8 418.8 L255.6 420.6 L256.4 422.5 L257.2 424.3 L258.0 426.2 L258.8 428.1 L259.6 430.0 L260.5 432.0 L261.3 433.9 L262.1 435.9 L262.9 437.9 L263.7 440.0 L264.5 442.0 L265.3 444.1 L266.2 446.2 L267.0 448.3 L267.8 450.5 L268.6 452.7 L269.4 454.9 L270.2 457.1 L271.0 459.4 L271.9 461.7 L272.7 464.0 L273.5 466.4 L274.3 468.7 L275.1 471.1 L275.9 473.6 L276.7 476.0 L277.6 478.4 L278.4 480.8 L279.2 483.3 L280.0 485.7 L280.8 488.1 L281.6 490.5 L282.4 492.9 L283.2 495.2 L284.1 497.6 L284.9 499.9 L285.7 502.2 L286.5 504.4 L287.3 506.6 L288.1 508.9 L288.9 511.0 L289.8 513.2 L290.6 515.3 L291.4 517.4 L292.2 519.5 L293.0 521.6 L293.8 523.6 L294.6 525.6 L295.5 527.6 L296.3 529.6 L297.1 531.5 L297.9 533.5 L298.7 535.4 L299.5 537.2 L300.3 539.1 L301.2 540.9 L302.0 542.7 L302.8 544.5 L303.6 546.3 L304.4 548.0 L305.2 549.8 L306.0 551.5 L306.8 553.1 L307.7 554.8 L308.5 556.4 L309.3 558.1 L310.1 559.6 L310.9 561.2 L311.7 562.8 L312.5 564.3 L313.4 565.8 L314.2 567.3 L315.0 568.8 L315.8 570.3 L316.6 571.7 L317.4 573.1 L318.2 574.5 L319.1 575.9 L319.9 577.2 L320.7 578.5 L321.5 579.9 L322.3 581.1 L323.1 582.4 L323.9 583.6 L324.8 584.9 L325.6 586.1 L326.4 587.2 L327.2 588.4 L328.0 589.5 L328.8 590.6 L329.6 591.7 L330.5 592.8 L331.3 593.8 L332.1 594.9 L332.9 595.9 L333.7 596.8 L334.5 597.8 L335.3 598.7 L336.1 599.6 L337.0 600.5 L337.8 601.3 L338.6 602.2 L339.4 603.0 L340.2 603.8 L341.0 604.5 L341.8 605.3 L342.7 606.0 L343.5 606.6 L344.3 607.3 L345.1 607.9 L345.9 608.6 L346.7 609.1 L347.5 609.7 L348.4 610.3 L349.2 610.8 L350.0 611.3 L350.8 611.8 L351.6 612.2 L352.4 612.6 L353.2 613.1 L354.1 613.5 L354.9 613.8 L355.7 614.2 L356.5 614.5 L357.3 614.8 L358.1 615.1 L358.9 615.4 L359.7 615.6 L360.6 615.9 L361.4 616.1 L362.2 616.3 L363.0 616.5 L363.8 616.6 L364.6 616.8 L365.4 616.9 L366.3 617.0 L367.1 617.1 L367.9 617.2 L368.7 617.3 L369.5 617.3 L370.3 617.3 L371.1 617.4 L372.0 617.4 L372.8 617.4 L373.6 617.3 L374.4 617.3 L375.2 617.2 L376.0 617.2 L376.8 617.1 L377.7 617.0 L378.5 616.9 L379.3 616.8 L380.1 616.7 L380.9 616.5 L381.7 616.4 L382.5 616.2 L383.3 616.1 L384.2 615.9 L385.0 615.7 L385.8 615.6 L386.6 615.4 L387.4 615.2 L388.2 615.0 L389.0 614.8 L389.9 614.6 L390.7 614.3 L391.5 614.1 L392.3 613.9 L393.1 613.7 L393.9 613.5 L394.7 613.2 L395.6 613.0 L396.4 612.8 L397.2 612.5 L398.0 612.3 L398.8 612.1 L399.6 611.8 L400.4 611.6 L401.3 611.4 L402.1 611.2 L402.9 610.9 L403.7 610.7 L404.5 610.5 L405.3 610.3 L406.1 610.1 L406.9 609.8 L407.8 609.6 L408.6 609.4 L409.4 609.2 L410.2 609.0 L411.0 608.8 L411.8 608.6 L412.6 608.4 L413.5 608.2 L414.3 608.0 L415.1 607.8 L415.9 607.6 L416.7 607.4 L417.5 607.2 L418.3 607.0 L419.2 606.8 L420.0 606.6 L420.8 606.4 L421.6 606.2 L422.4 606.1 L423.2 605.9 L424.0 605.7 L424.9 605.5 L425.7 605.3 L426.5 605.2 L427.3 605.0 L428.1 604.8 L428.9 604.6 L429.7 604.5 L430.5 604.3 L431.4 604.1 L432.2 604.0 L433.0 603.8 L433.8 603.6 L434.6 603.5 L435.4 603.3 L436.2 603.2 L437.1 603.0 L437.9 602.9 L438.7 602.7 L439.5 602.6 L440.3 602.4 L441.1 602.3 L441.9 602.1 L442.8 602.0 L443.6 601.9 L444.4 601.7 L445.2 601.6 L446.0 601.4 L446.8 601.3 L447.6 601.2 L448.5 601.0 L449.3 600.9 L450.1 600.8 L450.9 600.7 L451.7 600.5 L452.5 600.4 L453.3 600.3 L454.1 600.2 L455.0 600.1 L455.8 599.9 L456.6 599.8 L457.4 599.7 L458.2 599.6 L459.0 599.5 L459.8 599.4 L460.7 599.3 L461.5 599.2 L462.3 599.1 L463.1 599.0 L463.9 598.9 L464.7 598.8 L465.5 598.7 L466.4 598.6 L467.2 598.5 L468.0 598.4 L468.8 598.4 L469.6 598.3 L470.4 598.2 L471.2 598.1 L472.1 598.0 L472.9 597.9 L473.7 597.9 L474.5 597.8 L475.3 597.7 L476.1 597.7 L476.9 597.6 L477.7 597.5 L478.6 597.4 L479.4 597.4 L480.2 597.3 L481.0 597.3 L481.8 597.2 L482.6 597.1 L483.4 597.1 L484.3 597.0 L485.1 597.0 L485.9 596.9 L486.7 596.9 L487.5 596.8 L488.3 596.8 L489.1 596.8 L490.0 596.7 L490.8 596.7 L491.6 596.6 L492.4 596.6 L493.2 596.6 L494.0 596.5 L494.8 596.5 L495.7 596.5 L496.5 596.5 L497.3 596.4 L498.1 596.4 L498.9 596.4 L499.7 596.4 L500.5 596.4 L501.3 596.3 L502.2 596.3 L503.0 596.3 L503.8 596.3 L504.6 596.3 L505.4 596.3 L506.2 596.3 L507.0 596.3 L507.9 596.3 L508.7 596.2 L509.5 596.2 L510.3 596.2 L511.1 596.2 L511.9 596.2 L512.7 596.2 L513.6 596.2 L514.4 596.2 L515.2 596.3 L516.0 596.3 L516.8 596.3 L517.6 596.3 L518.4 596.3 L519.3 596.3 L520.1 596.3 L520.9 596.3 L521.7 596.3 L522.5 596.3 L523.3 596.3 L524.1 596.4 L524.9 596.4 L525.8 596.4 L526.6 596.4 L527.4 596.4 L528.2 596.4 L529.0 596.5 L529.8 596.5 L530.6 596.5 L531.5 596.5 L532.3 596.5 L533.1 596.6 L533.9 596.6 L534.7 596.6 L535.5 596.6 L536.3 596.7 L537.2 596.7 L538.0 596.7 L538.8 596.7 L539.6 596.8 L540.4 596.8 L541.2 596.8 L542.0 596.8 L542.9 596.9 L543.7 596.9 L544.5 596.9 L545.3 596.9 L546.1 597.0 L546.9 597.0 L547.7 597.0 L548.6 597.1 L549.4 597.1 L550.2 597.1 L551.0 597.1 L551.8 597.2 L552.6 597.2 L553.4 597.2 L554.2 597.2 L555.1 597.3 L555.9 597.3 L556.7 597.3 L557.5 597.4 L558.3 597.4 L559.1 597.4 L559.9 597.4 L560.8 597.5 L561.6 597.5 L562.4 597.5 L563.2 597.5 L564.0 597.6 L564.8 597.6 L565.6 597.6 L566.5 597.6 L567.3 597.6 L568.1 597.7 L568.9 597.7 L569.7 597.7 L570.5 597.7 L571.3 597.7 L572.2 597.8 L573.0 597.8 L573.8 597.8 L574.6 597.8 L575.4 597.8 L576.2 597.8 L577.0 597.9 L577.8 597.9 L578.7 597.9 L579.5 597.9 L580.3 597.9 L581.1 597.9 L581.9 597.9 L582.7 597.9 L583.5 597.9 L584.4 597.9 L585.2 598.0 L586.0 598.0 L586.8 598.0 L587.6 598.0 L588.4 598.0 L589.2 598.0 L590.1 598.0 L590.9 598.0 L591.7 598.0 L592.5 598.0 L593.3 598.0 L594.1 598.0 L594.9 598.0 L595.8 598.0 L596.6 598.0 L597.4 598.0 L598.2 598.0 L599.0 598.0 L599.8 598.0 L600.6 597.9 L601.4 597.9 L602.3 597.9 L603.1 597.9 L603.9 597.9 L604.7 597.9 L605.5 597.9 L606.3 597.9 L607.1 597.9 L608.0 597.9 L608.8 597.9 L609.6 597.9 L610.4 597.9 L611.2 597.9 L612.0 597.9 L612.8 597.9 L613.7 597.9 L614.5 597.9 L615.3 597.9 L616.1 597.8 L616.9 597.8 L617.7 597.8 L618.5 597.8 L619.4 597.8 L620.2 597.8 L621.0 597.8 L621.8 597.8 L622.6 597.8 L623.4 597.8 L624.2 597.8 L625.0 597.8 L625.9 597.8 L626.7 597.8 L627.5 597.8 L628.3 597.8 L629.1 597.8 L629.9 597.8 L630.7 597.8 L631.6 597.8 L632.4 597.8 L633.2 597.8 L634.0 597.9 L634.8 597.9 L635.6 597.9 L636.4 597.9 L637.3 597.9 L638.1 597.9 L638.9 597.9 L639.7 597.9 L640.5 597.9 L641.3 598.0 L642.1 598.0 L643.0 598.0 L643.8 598.0 L644.6 598.0 L645.4 598.0 L646.2 598.1 L647.0 598.1 L647.8 598.1 L648.6 598.1 L649.5 598.2 L650.3 598.2 L651.1 598.2 L651.9 598.2 L652.7 598.3 L653.5 598.3 L654.3 598.3 L655.2 598.4 L656.0 598.4 L656.8 598.5 L657.6 598.5" fill="none" stroke="#0000ff" stroke-width="2.50" stroke-linejoin="round"/>
<circle cx="80.2" cy="598.4" r="3.45" fill="#ff8000"/>
<circle cx="80.3" cy="598.8" r="3.45" fill="#800080"/>
<circle cx="88.4" cy="597.8" r="3.55" fill="#0000ff"/>
<rect x="350.6" y="343.4" width="293.9" height="182.1" fill="none" stroke="#909090" stroke-width="1.1"/>
<line x1="350.6" x2="353.9" y1="517.3" y2="517.3" stroke="#969696" stroke-width="1"/>
<line x1="350.6" x2="353.9" y1="434.9" y2="434.9" stroke="#969696" stroke-width="1"/>
<line x1="350.6" x2="353.9" y1="352.5" y2="352.5" stroke="#969696" stroke-width="1"/>
<line x1="364.3" x2="364.3" y1="522.1" y2="525.5" stroke="#969696" stroke-width="1"/>
<line x1="434.3" x2="434.3" y1="522.1" y2="525.5" stroke="#969696" stroke-width="1"/>
<line x1="504.3" x2="504.3" y1="522.1" y2="525.5" stroke="#969696" stroke-width="1"/>
<line x1="574.3" x2="574.3" y1="522.1" y2="525.5" stroke="#969696" stroke-width="1"/>
<line x1="644.3" x2="644.3" y1="522.1" y2="525.5" stroke="#969696" stroke-width="1"/>
<path d="M356.3 517.4 L643.8 517.4" fill="none" stroke="#ff8000" stroke-width="2.50" stroke-linejoin="round"/>
<path d="M356.5 461.8 L357.5 463.1 L358.4 464.5 L359.4 465.8 L360.3 467.1 L361.3 468.3 L362.3 469.5 L363.2 470.6 L364.2 471.7 L365.1 472.7 L366.1 473.8 L367.1 474.7 L368.0 475.7 L369.0 476.6 L369.9 477.5 L370.9 478.3 L371.9 479.2 L372.8 479.9 L373.8 480.7 L374.7 481.4 L375.7 482.1 L376.7 482.8 L377.6 483.4 L378.6 484.1 L379.5 484.7 L380.5 485.3 L381.5 485.8 L382.4 486.4 L383.4 486.9 L384.3 487.4 L385.3 487.9 L386.3 488.4 L387.2 488.8 L388.2 489.3 L389.1 489.7 L390.1 490.1 L391.1 490.5 L392.0 490.9 L393.0 491.3 L393.9 491.7 L394.9 492.1 L395.9 492.4 L396.8 492.8 L397.8 493.2 L398.7 493.5 L399.7 493.8 L400.7 494.1 L401.6 494.5 L402.6 494.8 L403.5 495.1 L404.5 495.4 L405.5 495.6 L406.4 495.9 L407.4 496.2 L408.3 496.4 L409.3 496.7 L410.3 496.9 L411.2 497.2 L412.2 497.4 L413.1 497.7 L414.1 497.9 L415.1 498.1 L416.0 498.3 L417.0 498.5 L417.9 498.7 L418.9 498.9 L419.9 499.1 L420.8 499.3 L421.8 499.5 L422.7 499.7 L423.7 499.9 L424.7 500.0 L425.6 500.2 L426.6 500.4 L427.5 500.5 L428.5 500.7 L429.4 500.9 L430.4 501.0 L431.4 501.2 L432.3 501.3 L433.3 501.5 L434.2 501.6 L435.2 501.8 L436.2 501.9 L437.1 502.1 L438.1 502.2 L439.0 502.3 L440.0 502.5 L441.0 502.6 L441.9 502.8 L442.9 502.9 L443.8 503.0 L444.8 503.2 L445.8 503.3 L446.7 503.4 L447.7 503.6 L448.6 503.7 L449.6 503.8 L450.6 504.0 L451.5 504.1 L452.5 504.2 L453.4 504.4 L454.4 504.5 L455.4 504.6 L456.3 504.8 L457.3 504.9 L458.2 505.0 L459.2 505.2 L460.2 505.3 L461.1 505.4 L462.1 505.5 L463.0 505.7 L464.0 505.8 L465.0 505.9 L465.9 506.0 L466.9 506.2 L467.8 506.3 L468.8 506.4 L469.8 506.5 L470.7 506.6 L471.7 506.8 L472.6 506.9 L473.6 507.0 L474.6 507.1 L475.5 507.2 L476.5 507.3 L477.4 507.5 L478.4 507.6 L479.4 507.7 L480.3 507.8 L481.3 507.9 L482.2 508.0 L483.2 508.1 L484.2 508.3 L485.1 508.4 L486.1 508.5 L487.0 508.6 L488.0 508.7 L489.0 508.8 L489.9 508.9 L490.9 509.0 L491.8 509.1 L492.8 509.2 L493.8 509.3 L494.7 509.4 L495.7 509.5 L496.6 509.6 L497.6 509.7 L498.6 509.8 L499.5 509.9 L500.5 510.0 L501.4 510.1 L502.4 510.2 L503.4 510.3 L504.3 510.4 L505.3 510.5 L506.2 510.6 L507.2 510.7 L508.2 510.8 L509.1 510.9 L510.1 511.0 L511.0 511.1 L512.0 511.2 L513.0 511.3 L513.9 511.4 L514.9 511.4 L515.8 511.5 L516.8 511.6 L517.8 511.7 L518.7 511.8 L519.7 511.9 L520.6 512.0 L521.6 512.0 L522.6 512.1 L523.5 512.2 L524.5 512.3 L525.4 512.4 L526.4 512.5 L527.4 512.5 L528.3 512.6 L529.3 512.7 L530.2 512.8 L531.2 512.9 L532.2 512.9 L533.1 513.0 L534.1 513.1 L535.0 513.2 L536.0 513.2 L537.0 513.3 L537.9 513.4 L538.9 513.4 L539.8 513.5 L540.8 513.6 L541.8 513.6 L542.7 513.7 L543.7 513.8 L544.6 513.8 L545.6 513.9 L546.6 514.0 L547.5 514.0 L548.5 514.1 L549.4 514.2 L550.4 514.2 L551.4 514.3 L552.3 514.4 L553.3 514.4 L554.2 514.5 L555.2 514.5 L556.2 514.6 L557.1 514.6 L558.1 514.7 L559.0 514.8 L560.0 514.8 L561.0 514.9 L561.9 514.9 L562.9 515.0 L563.8 515.0 L564.8 515.1 L565.8 515.1 L566.7 515.2 L567.7 515.2 L568.6 515.3 L569.6 515.3 L570.6 515.4 L571.5 515.4 L572.5 515.4 L573.4 515.5 L574.4 515.5 L575.3 515.6 L576.3 515.6 L577.3 515.6 L578.2 515.7 L579.2 515.7 L580.1 515.8 L581.1 515.8 L582.1 515.8 L583.0 515.9 L584.0 515.9 L584.9 515.9 L585.9 516.0 L586.9 516.0 L587.8 516.0 L588.8 516.1 L589.7 516.1 L590.7 516.1 L591.7 516.2 L592.6 516.2 L593.6 516.2 L594.5 516.2 L595.5 516.3 L596.5 516.3 L597.4 516.3 L598.4 516.3 L599.3 516.3 L600.3 516.4 L601.3 516.4 L602.2 516.4 L603.2 516.4 L604.1 516.4 L605.1 516.5 L606.1 516.5 L607.0 516.5 L608.0 516.5 L608.9 516.5 L609.9 516.5 L610.9 516.5 L611.8 516.5 L612.8 516.6 L613.7 516.6 L614.7 516.6 L615.7 516.6 L616.6 516.6 L617.6 516.6 L618.5 516.6 L619.5 516.6 L620.5 516.6 L621.4 516.6 L622.4 516.6 L623.3 516.6 L624.3 516.6 L625.3 516.6 L626.2 516.6 L627.2 516.6 L628.1 516.6 L629.1 516.6 L630.1 516.6 L631.0 516.6 L632.0 516.6 L632.9 516.6 L633.9 516.5 L634.9 516.5 L635.8 516.5 L636.8 516.5 L637.7 516.5 L638.7 516.5 L639.7 516.5 L640.6 516.5 L641.6 516.4 L642.5 516.4 L643.5 516.4" fill="none" stroke="#800080" stroke-width="2.50" stroke-linejoin="round"/>
<path d="M360.8 358.8 L361.7 358.9 L362.6 359.1 L363.6 359.3 L364.5 359.5 L365.4 359.7 L366.4 359.9 L367.3 360.1 L368.3 360.3 L369.2 360.6 L370.1 360.8 L371.1 361.0 L372.0 361.3 L372.9 361.5 L373.9 361.8 L374.8 362.0 L375.8 362.3 L376.7 362.5 L377.6 362.8 L378.6 363.1 L379.5 363.4 L380.5 363.7 L381.4 364.0 L382.3 364.3 L383.3 364.6 L384.2 364.9 L385.1 365.2 L386.1 365.5 L387.0 365.8 L388.0 366.2 L388.9 366.5 L389.8 366.8 L390.8 367.2 L391.7 367.5 L392.7 367.9 L393.6 368.2 L394.5 368.6 L395.5 369.0 L396.4 369.4 L397.3 369.7 L398.3 370.1 L399.2 370.5 L400.2 370.9 L401.1 371.3 L402.0 371.7 L403.0 372.1 L403.9 372.5 L404.8 372.9 L405.8 373.4 L406.7 373.8 L407.7 374.2 L408.6 374.6 L409.5 375.1 L410.5 375.5 L411.4 376.0 L412.4 376.4 L413.3 376.9 L414.2 377.3 L415.2 377.8 L416.1 378.3 L417.0 378.7 L418.0 379.2 L418.9 379.7 L419.9 380.2 L420.8 380.7 L421.7 381.2 L422.7 381.7 L423.6 382.2 L424.6 382.7 L425.5 383.2 L426.4 383.7 L427.4 384.2 L428.3 384.7 L429.2 385.3 L430.2 385.8 L431.1 386.3 L432.1 386.9 L433.0 387.4 L433.9 387.9 L434.9 388.5 L435.8 389.0 L436.8 389.6 L437.7 390.2 L438.6 390.7 L439.6 391.3 L440.5 391.9 L441.4 392.4 L442.4 393.0 L443.3 393.6 L444.3 394.2 L445.2 394.8 L446.1 395.3 L447.1 395.9 L448.0 396.5 L448.9 397.1 L449.9 397.7 L450.8 398.3 L451.8 398.9 L452.7 399.6 L453.6 400.2 L454.6 400.8 L455.5 401.4 L456.5 402.0 L457.4 402.7 L458.3 403.3 L459.3 403.9 L460.2 404.6 L461.1 405.2 L462.1 405.8 L463.0 406.5 L464.0 407.1 L464.9 407.8 L465.8 408.4 L466.8 409.1 L467.7 409.8 L468.7 410.4 L469.6 411.1 L470.5 411.8 L471.5 412.4 L472.4 413.1 L473.3 413.8 L474.3 414.4 L475.2 415.1 L476.2 415.8 L477.1 416.5 L478.0 417.2 L479.0 417.9 L479.9 418.6 L480.9 419.3 L481.8 419.9 L482.7 420.6 L483.7 421.3 L484.6 422.0 L485.5 422.8 L486.5 423.5 L487.4 424.2 L488.4 424.9 L489.3 425.6 L490.2 426.3 L491.2 427.0 L492.1 427.7 L493.0 428.5 L494.0 429.2 L494.9 429.9 L495.9 430.6 L496.8 431.4 L497.7 432.1 L498.7 432.8 L499.6 433.6 L500.6 434.3 L501.5 435.0 L502.4 435.8 L503.4 436.5 L504.3 437.3 L505.2 438.0 L506.2 438.8 L507.1 439.5 L508.1 440.3 L509.0 441.0 L509.9 441.8 L510.9 442.5 L511.8 443.3 L512.8 444.0 L513.7 444.8 L514.6 445.5 L515.6 446.3 L516.5 447.1 L517.4 447.8 L518.4 448.6 L519.3 449.3 L520.3 450.1 L521.2 450.9 L522.1 451.6 L523.1 452.4 L524.0 453.1 L525.0 453.9 L525.9 454.6 L526.8 455.4 L527.8 456.1 L528.7 456.9 L529.6 457.6 L530.6 458.4 L531.5 459.1 L532.5 459.8 L533.4 460.6 L534.3 461.3 L535.3 462.0 L536.2 462.7 L537.1 463.5 L538.1 464.2 L539.0 464.9 L540.0 465.6 L540.9 466.3 L541.8 467.0 L542.8 467.7 L543.7 468.4 L544.7 469.0 L545.6 469.7 L546.5 470.4 L547.5 471.1 L548.4 471.7 L549.3 472.4 L550.3 473.0 L551.2 473.6 L552.2 474.3 L553.1 474.9 L554.0 475.5 L555.0 476.1 L555.9 476.7 L556.9 477.3 L557.8 477.9 L558.7 478.5 L559.7 479.1 L560.6 479.7 L561.5 480.3 L562.5 480.8 L563.4 481.4 L564.4 481.9 L565.3 482.5 L566.2 483.0 L567.2 483.6 L568.1 484.1 L569.1 484.6 L570.0 485.2 L570.9 485.7 L571.9 486.2 L572.8 486.7 L573.7 487.2 L574.7 487.7 L575.6 488.2 L576.6 488.7 L577.5 489.1 L578.4 489.6 L579.4 490.1 L580.3 490.5 L581.2 491.0 L582.2 491.4 L583.1 491.9 L584.1 492.3 L585.0 492.8 L585.9 493.2 L586.9 493.6 L587.8 494.0 L588.8 494.5 L589.7 494.9 L590.6 495.3 L591.6 495.7 L592.5 496.1 L593.4 496.5 L594.4 496.9 L595.3 497.3 L596.3 497.6 L597.2 498.0 L598.1 498.4 L599.1 498.8 L600.0 499.2 L601.0 499.5 L601.9 499.9 L602.8 500.3 L603.8 500.6 L604.7 501.0 L605.6 501.4 L606.6 501.7 L607.5 502.1 L608.5 502.4 L609.4 502.8 L610.3 503.1 L611.3 503.5 L612.2 503.9 L613.2 504.2 L614.1 504.6 L615.0 504.9 L616.0 505.3 L616.9 505.6 L617.8 506.0 L618.8 506.3 L619.7 506.7 L620.7 507.1 L621.6 507.4 L622.5 507.8 L623.5 508.2 L624.4 508.5 L625.3 508.9 L626.3 509.3 L627.2 509.6 L628.2 510.0 L629.1 510.4 L630.0 510.8 L631.0 511.1 L631.9 511.5 L632.9 511.9 L633.8 512.3 L634.7 512.7 L635.7 513.1 L636.6 513.5 L637.5 513.9 L638.5 514.3 L639.4 514.8 L640.4 515.2 L641.3 515.6" fill="none" stroke="#0000ff" stroke-width="2.50" stroke-linejoin="round"/>
<circle cx="356.3" cy="517.4" r="2.00" fill="#ff8000"/>
<circle cx="356.5" cy="461.8" r="2.00" fill="#800080"/>
<circle cx="360.8" cy="358.8" r="2.00" fill="#0000ff"/>
<path d="M640.6 517.2 L644.2 517.2" fill="none" stroke="#0000ff" stroke-width="2.60" stroke-linejoin="round"/>
<path d="M69.1 -0.1 H657.6 V661.6 H69.1 Z M69.1 330.5 H657.6" fill="none" stroke="#8e8e8e" stroke-width="1.5"/>
<line x1="69.10" x2="74.90" y1="313.90" y2="313.90" stroke="#8a8a8a" stroke-width="1.05"/>
<line x1="69.10" x2="74.90" y1="165.07" y2="165.07" stroke="#8a8a8a" stroke-width="1.05"/>
<line x1="69.10" x2="74.90" y1="16.25" y2="16.25" stroke="#8a8a8a" stroke-width="1.05"/>
<line x1="69.10" x2="74.90" y1="598.50" y2="598.50" stroke="#8a8a8a" stroke-width="1.05"/>
<line x1="69.10" x2="74.90" y1="451.66" y2="451.66" stroke="#8a8a8a" stroke-width="1.05"/>
<line x1="97.10" x2="97.10" y1="324.70" y2="336.30" stroke="#8a8a8a" stroke-width="1.05"/>
<line x1="97.10" x2="97.10" y1="655.80" y2="661.60" stroke="#8a8a8a" stroke-width="1.05"/>
<line x1="237.25" x2="237.25" y1="324.70" y2="336.30" stroke="#8a8a8a" stroke-width="1.05"/>
<line x1="237.25" x2="237.25" y1="655.80" y2="661.60" stroke="#8a8a8a" stroke-width="1.05"/>
<line x1="377.40" x2="377.40" y1="324.70" y2="336.30" stroke="#8a8a8a" stroke-width="1.05"/>
<line x1="377.40" x2="377.40" y1="655.80" y2="661.60" stroke="#8a8a8a" stroke-width="1.05"/>
<line x1="517.55" x2="517.55" y1="324.70" y2="336.30" stroke="#8a8a8a" stroke-width="1.05"/>
<line x1="517.55" x2="517.55" y1="655.80" y2="661.60" stroke="#8a8a8a" stroke-width="1.05"/>
<line x1="657.70" x2="657.70" y1="324.70" y2="336.30" stroke="#8a8a8a" stroke-width="1.05"/>
<line x1="657.70" x2="657.70" y1="655.80" y2="661.60" stroke="#8a8a8a" stroke-width="1.05"/>
<text transform="translate(64.40 321.10) scale(0.940 1)" font-size="21.90" fill="#666666" text-anchor="end">0</text>
<text transform="translate(64.40 172.27) scale(0.940 1)" font-size="21.90" fill="#666666" text-anchor="end">0.5</text>
<text transform="translate(64.40 23.45) scale(0.940 1)" font-size="21.90" fill="#666666" text-anchor="end">1</text>
<text transform="translate(64.40 605.70) scale(0.940 1)" font-size="21.90" fill="#666666" text-anchor="end">0</text>
<text transform="translate(64.40 458.86) scale(0.940 1)" font-size="21.90" fill="#666666" text-anchor="end">0.2</text>
<text transform="translate(97.10 685.10) scale(0.940 1)" font-size="21.90" fill="#666666" text-anchor="middle">0.6</text>
<text transform="translate(237.25 685.10) scale(0.940 1)" font-size="21.90" fill="#666666" text-anchor="middle">0.7</text>
<text transform="translate(377.40 685.10) scale(0.940 1)" font-size="21.90" fill="#666666" text-anchor="middle">0.8</text>
<text transform="translate(517.55 685.10) scale(0.940 1)" font-size="21.90" fill="#666666" text-anchor="middle">0.9</text>
<text transform="translate(657.70 685.10) scale(0.940 1)" font-size="21.90" fill="#666666" text-anchor="middle">1</text>
<text transform="translate(364.00 717.00) scale(0.940 1)" font-size="21.50" fill="#666666" text-anchor="middle">z</text>
<g transform="translate(23.50 206.80) rotate(-90)">
<text transform="translate(-1.12 0.00) scale(1.270 1)" font-size="20.60" fill="#666666">g</text>
<path d="M2.90 -12.10 L5.90 -15.60 L8.90 -12.10" fill="none" stroke="#666666" stroke-width="0.90" stroke-linejoin="miter"/>
<text x="11.65" y="4.50" font-size="15.30" fill="#666666">tt</text>
<text x="25.64" y="0.00" font-size="21.60" fill="#666666">and</text>
<text transform="translate(59.68 0.00) scale(1.270 1)" font-size="20.60" fill="#666666">g</text>
<path d="M63.70 -12.10 L66.70 -15.60 L69.70 -12.10" fill="none" stroke="#666666" stroke-width="0.90" stroke-linejoin="miter"/>
<text x="73.75" y="4.50" font-size="15.30" fill="#666666">tr</text>
</g>
<g transform="translate(25.30 521.70) rotate(-90)">
<text transform="translate(-0.99 0.70) scale(0.820 1)" font-size="23.00" fill="#666666" font-style="italic">V</text>
<text x="11.88" y="3.90" font-size="16.00" fill="#666666">eff</text>
<text x="31.66" y="-0.50" font-size="19.20" fill="#666666">(</text>
<text x="36.42" y="0.00" font-size="21.50" fill="#666666">z</text>
<text x="46.18" y="-0.50" font-size="19.20" fill="#666666">)</text>
</g>
<text transform="translate(349.60 211.20) scale(0.940 1)" font-size="20.80" fill="#000" text-anchor="end">0.02</text>
<text transform="translate(349.40 311.40) scale(0.940 1)" font-size="20.80" fill="#000" text-anchor="end">&#8722;0.01</text>
<text transform="translate(406.00 292.60) scale(0.940 1)" font-size="20.80" fill="#000" text-anchor="middle">0.6</text>
<text transform="translate(552.60 292.60) scale(0.940 1)" font-size="20.80" fill="#000" text-anchor="middle">0.65</text>
<text transform="translate(630.20 277.50) scale(1.000 1)" font-size="19.50" fill="#666666" text-anchor="middle">z</text>
<text x="487.36" y="240.30" font-size="22.00" fill="#000">&#916;</text>
<text transform="translate(500.51 240.30) skewX(-13) scale(1.080 1)" font-size="23.50" fill="#000">g</text>
<path d="M504.90 227.60 L508.10 223.60 L511.30 227.60" fill="none" stroke="#000" stroke-width="0.95" stroke-linejoin="miter"/>
<text x="514.74" y="246.80" font-size="16.50" fill="#000">tr</text>
<text x="444.78" y="313.90" font-size="23.00" fill="#000">10</text>
<text x="467.16" y="313.90" font-size="22.00" fill="#000">&#916;</text>
<text transform="translate(481.31 313.90) skewX(-13) scale(1.080 1)" font-size="23.50" fill="#000">g</text>
<path d="M485.30 301.20 L488.50 297.20 L491.70 301.20" fill="none" stroke="#000" stroke-width="0.95" stroke-linejoin="miter"/>
<text x="495.64" y="320.30" font-size="16.50" fill="#000">tt</text>
<text transform="translate(347.00 523.90) scale(0.960 1)" font-size="21.90" fill="#666666" text-anchor="end">0</text>
<text transform="translate(347.00 441.50) scale(0.960 1)" font-size="21.90" fill="#666666" text-anchor="end">0.2</text>
<text transform="translate(347.00 359.10) scale(0.960 1)" font-size="21.90" fill="#666666" text-anchor="end">0.4</text>
<text transform="translate(364.30 548.30) scale(0.940 1)" font-size="21.90" fill="#666666" text-anchor="middle">0.6</text>
<text transform="translate(434.30 548.30) scale(0.940 1)" font-size="21.90" fill="#666666" text-anchor="middle">0.7</text>
<text transform="translate(504.30 548.30) scale(0.940 1)" font-size="21.90" fill="#666666" text-anchor="middle">0.8</text>
<text transform="translate(574.30 548.30) scale(0.940 1)" font-size="21.90" fill="#666666" text-anchor="middle">0.9</text>
<text transform="translate(644.30 548.30) scale(0.940 1)" font-size="21.90" fill="#666666" text-anchor="middle">1</text>
<text transform="translate(498.00 580.60) scale(0.940 1)" font-size="21.50" fill="#666666" text-anchor="middle">z</text>
<g transform="translate(307.60 451.00) rotate(-90)">
<text transform="translate(-0.51 0.40) scale(1.220 1)" font-size="18.20" fill="#666666" font-style="italic">&#981;</text>
<text x="11.16" y="-0.80" font-size="19.20" fill="#666666">(</text>
<text x="17.62" y="0.00" font-size="21.50" fill="#666666">z</text>
<text x="26.78" y="-0.80" font-size="19.20" fill="#666666">)</text>
</g>
</svg>
</body></html>
